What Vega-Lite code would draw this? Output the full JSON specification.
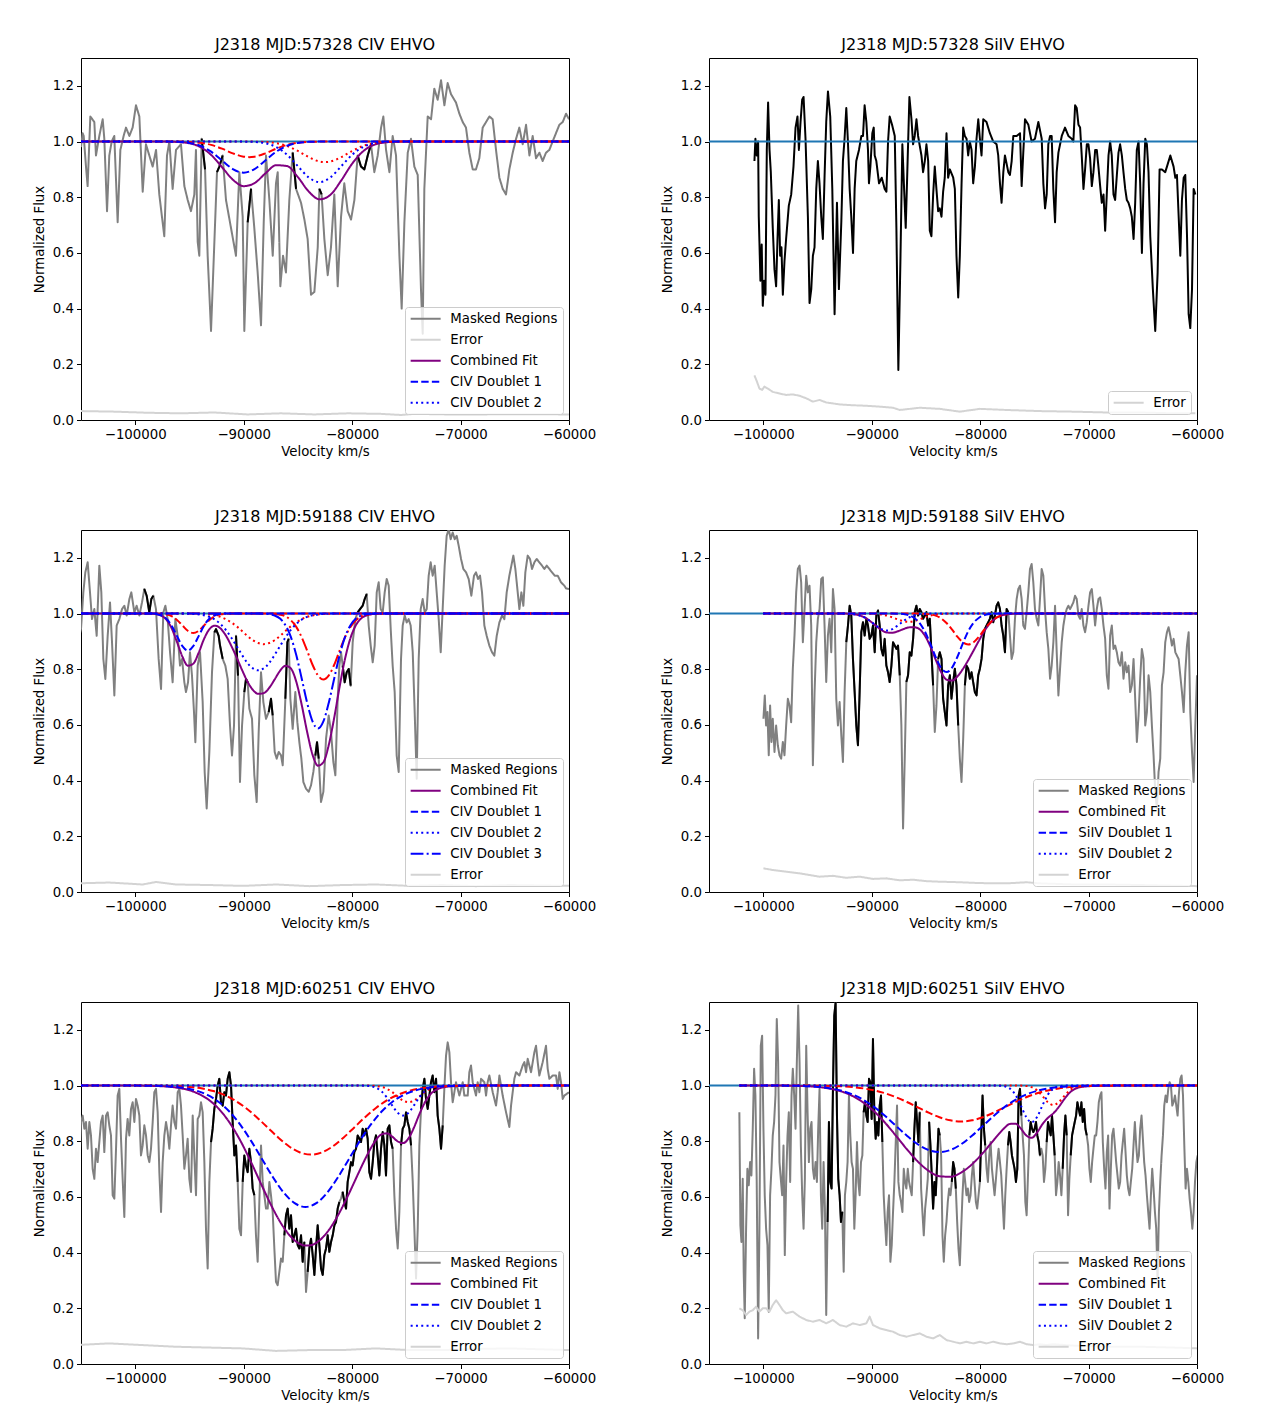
{
  "$schema": "https://vega.github.io/schema/vega-lite/v6.json",
  "background": "white",
  "padding": {"left": 31, "top": 36, "right": 10, "bottom": 10},
  "config": {
    "font": "DejaVu Sans",
    "view": {"stroke": "black", "strokeWidth": 1},
    "axis": {"domain": false, "grid": false, "tickColor": "black", "tickSize": 4.5, "tickWidth": 1, "labelFontSize": 13.3, "labelColor": "black", "titleFontSize": 13.3, "titleColor": "black", "titleFontWeight": "normal", "labelFont": "DejaVu Sans", "titleFont": "DejaVu Sans", "labelPadding": 3, "labelFlush": false, "labelOverlap": false},
    "axisX": {"titlePadding": 4},
    "axisY": {"titlePadding": 6},
    "title": {"fontSize": 16, "fontWeight": "normal", "font": "DejaVu Sans", "color": "black", "offset": 5, "baseline": "alphabetic"},
    "legend": {"orient": "bottom-right", "offset": 6, "labelFontSize": 13.3, "labelFont": "DejaVu Sans", "labelColor": "black", "symbolType": "M-3,0H3", "symbolSize": 100, "symbolStrokeWidth": 2, "labelOffset": 18, "symbolOffset": 9, "padding": 5, "rowPadding": 7, "fillColor": "rgba(255,255,255,0.8)", "strokeColor": "#cccccc", "cornerRadius": 3},
    "line": {"strokeWidth": 2, "strokeJoin": "round"}
  },
  "datasets": {
    "cont": [{"v": -105000, "f": 1}, {"v": -60000, "f": 1}],
    "spec1": [
      {"v":-105000,"f":0.98},{"v":-104850,"f":1.03},{"v":-104750,"f":1.02},{"v":-104540,"f":0.91},{"v":-104390,"f":0.84},{"v":-104140,"f":1.09},{"v":-103770,"f":1.07},{"v":-103620,"f":0.95},{"v":-103310,"f":1.02},{"v":-103000,"f":1.08},{"v":-102850,"f":1.01},{"v":-102600,"f":0.75},{"v":-102390,"f":0.95},{"v":-102170,"f":1.0},{"v":-101930,"f":1.02},{"v":-101620,"f":0.71},{"v":-101370,"f":0.97},{"v":-101070,"f":1.02},{"v":-100850,"f":1.05},{"v":-100540,"f":1.02},{"v":-100240,"f":1.05},{"v":-99930,"f":1.13},{"v":-99620,"f":1.09},{"v":-99310,"f":0.82},{"v":-99010,"f":0.99},{"v":-98700,"f":0.95},{"v":-98390,"f":0.91},{"v":-98080,"f":0.97},{"v":-97780,"f":0.81},{"v":-97320,"f":0.66},{"v":-97070,"f":0.95},{"v":-96850,"f":1.0},{"v":-96550,"f":0.83},{"v":-96240,"f":0.97},{"v":-95780,"f":0.99},{"v":-95470,"f":0.84},{"v":-95160,"f":0.79},{"v":-94860,"f":0.75},{"v":-94550,"f":0.81},{"v":-94400,"f":0.97},{"v":-94240,"f":0.64},{"v":-94090,"f":0.59},{"v":-93870,"f":1.01,"s":1},{"v":-93560,"f":0.9,"s":1},{"v":-93320,"f":0.59},{"v":-93010,"f":0.32},{"v":-92700,"f":0.64},{"v":-92460,"f":0.89,"s":2},{"v":-92240,"f":0.91,"s":2},{"v":-91940,"f":0.95,"s":2},{"v":-91630,"f":0.79},{"v":-91170,"f":0.69},{"v":-90710,"f":0.59},{"v":-90400,"f":0.89},{"v":-90090,"f":0.73},{"v":-89940,"f":0.32},{"v":-89630,"f":0.71,"s":3},{"v":-89320,"f":0.83,"s":3},{"v":-89020,"f":0.69},{"v":-88710,"f":0.53},{"v":-88400,"f":0.34},{"v":-88150,"f":0.71},{"v":-87940,"f":0.95},{"v":-87630,"f":0.79},{"v":-87320,"f":0.59},{"v":-87020,"f":0.85},{"v":-86860,"f":0.89},{"v":-86620,"f":0.48},{"v":-86370,"f":0.59},{"v":-86100,"f":0.53},{"v":-85790,"f":0.79},{"v":-85480,"f":0.96,"s":4},{"v":-85170,"f":0.83,"s":4},{"v":-84710,"f":0.78},{"v":-84400,"f":0.72},{"v":-84100,"f":0.65},{"v":-83790,"f":0.45},{"v":-83480,"f":0.46},{"v":-83170,"f":0.62},{"v":-83020,"f":0.83,"s":5},{"v":-82810,"f":0.81,"s":5},{"v":-82560,"f":0.65},{"v":-82250,"f":0.52},{"v":-81950,"f":0.62},{"v":-81640,"f":0.81},{"v":-81330,"f":0.48},{"v":-81020,"f":0.73},{"v":-80720,"f":0.85},{"v":-80410,"f":0.75},{"v":-80100,"f":0.72},{"v":-79790,"f":0.79},{"v":-79490,"f":0.95,"s":6},{"v":-79180,"f":0.91,"s":6},{"v":-78870,"f":0.9,"s":6},{"v":-78560,"f":0.95,"s":6},{"v":-78260,"f":0.99,"s":6},{"v":-77950,"f":0.89},{"v":-77640,"f":0.95},{"v":-77330,"f":1.05},{"v":-77120,"f":1.09},{"v":-76870,"f":0.97},{"v":-76560,"f":0.89},{"v":-76260,"f":1.02},{"v":-75950,"f":0.95},{"v":-75640,"f":0.59},{"v":-75430,"f":0.4},{"v":-75180,"f":0.71},{"v":-74870,"f":0.96},{"v":-74570,"f":1.01},{"v":-74260,"f":0.91},{"v":-73950,"f":0.88},{"v":-73650,"f":0.47},{"v":-73490,"f":0.31},{"v":-73340,"f":0.83},{"v":-73030,"f":1.09},{"v":-72720,"f":1.08},{"v":-72420,"f":1.19},{"v":-72110,"f":1.15},{"v":-71800,"f":1.22},{"v":-71490,"f":1.13},{"v":-71190,"f":1.21},{"v":-70880,"f":1.17},{"v":-70420,"f":1.14},{"v":-70110,"f":1.1},{"v":-69800,"f":1.07},{"v":-69500,"f":1.05},{"v":-69190,"f":0.96},{"v":-68880,"f":0.9},{"v":-68580,"f":0.9},{"v":-68270,"f":0.94},{"v":-67960,"f":1.05},{"v":-67650,"f":1.07},{"v":-67340,"f":1.09},{"v":-67040,"f":1.08},{"v":-66730,"f":0.97},{"v":-66420,"f":0.87},{"v":-66110,"f":0.83},{"v":-65810,"f":0.81},{"v":-65500,"f":0.9},{"v":-65190,"f":0.96},{"v":-64880,"f":1.01},{"v":-64580,"f":1.05},{"v":-64270,"f":0.99},{"v":-63960,"f":1.06},{"v":-63650,"f":0.95},{"v":-63350,"f":1.02},{"v":-63040,"f":0.94},{"v":-62730,"f":0.96},{"v":-62430,"f":0.93},{"v":-62120,"f":0.96},{"v":-61810,"f":0.97},{"v":-61510,"f":1.0},{"v":-61200,"f":1.03},{"v":-60890,"f":1.06},{"v":-60580,"f":1.07},{"v":-60270,"f":1.1},{"v":-60000,"f":1.08}
    ],
    "err1": [
      {"v":-105000,"f":0.032},{"v":-101930,"f":0.03},{"v":-98850,"f":0.026},{"v":-95780,"f":0.024},{"v":-92700,"f":0.027},{"v":-89630,"f":0.02},{"v":-86560,"f":0.024},{"v":-83480,"f":0.02},{"v":-80410,"f":0.024},{"v":-77330,"f":0.022},{"v":-75490,"f":0.018},{"v":-74260,"f":0.022},{"v":-71190,"f":0.02},{"v":-68110,"f":0.02},{"v":-65040,"f":0.021},{"v":-60000,"f":0.02}
    ],
    "fit1": [
      {"c":"comb","v":-105000,"f":1},{"c":"comb","v":-97000,"f":0.9997},{"c":"comb","v":-96000,"f":0.998},{"c":"comb","v":-95000,"f":0.9938},{"c":"comb","v":-94000,"f":0.9804},{"c":"comb","v":-93000,"f":0.952},{"c":"comb","v":-92000,"f":0.9082},{"c":"comb","v":-91000,"f":0.8631},{"c":"comb","v":-90000,"f":0.8398},{"c":"comb","v":-89000,"f":0.8506},{"c":"comb","v":-88000,"f":0.8855},{"c":"comb","v":-87000,"f":0.9149},{"c":"comb","v":-86000,"f":0.912},{"c":"comb","v":-85000,"f":0.8722},{"c":"comb","v":-84000,"f":0.8204},{"c":"comb","v":-83000,"f":0.7924},{"c":"comb","v":-82000,"f":0.8087},{"c":"comb","v":-81000,"f":0.8605},{"c":"comb","v":-80000,"f":0.9203},{"c":"comb","v":-79000,"f":0.9645},{"c":"comb","v":-78000,"f":0.9877},{"c":"comb","v":-77000,"f":0.9967},{"c":"comb","v":-76000,"f":0.9993},{"c":"comb","v":-75000,"f":1},{"c":"comb","v":-60000,"f":1},
      {"c":"b1","v":-105000,"f":1},{"c":"b1","v":-98000,"f":1},{"c":"b1","v":-97000,"f":0.9998},{"c":"b1","v":-96000,"f":0.9988},{"c":"b1","v":-95000,"f":0.9951},{"c":"b1","v":-94000,"f":0.9848},{"c":"b1","v":-93000,"f":0.9636},{"c":"b1","v":-92000,"f":0.9321},{"c":"b1","v":-91000,"f":0.9012},{"c":"b1","v":-90000,"f":0.888},{"c":"b1","v":-89000,"f":0.9012},{"c":"b1","v":-88000,"f":0.9321},{"c":"b1","v":-87000,"f":0.9636},{"c":"b1","v":-86000,"f":0.9848},{"c":"b1","v":-85000,"f":0.9951},{"c":"b1","v":-84000,"f":0.9988},{"c":"b1","v":-83000,"f":0.9998},{"c":"b1","v":-82000,"f":1},{"c":"b1","v":-60000,"f":1},
      {"c":"r1","v":-105000,"f":1},{"c":"r1","v":-97000,"f":0.9999},{"c":"r1","v":-96000,"f":0.9997},{"c":"r1","v":-95000,"f":0.9987},{"c":"r1","v":-94000,"f":0.9955},{"c":"r1","v":-93000,"f":0.9879},{"c":"r1","v":-92000,"f":0.9744},{"c":"r1","v":-91000,"f":0.9577},{"c":"r1","v":-90000,"f":0.9457},{"c":"r1","v":-89500,"f":0.944},{"c":"r1","v":-89000,"f":0.9457},{"c":"r1","v":-88000,"f":0.9577},{"c":"r1","v":-87000,"f":0.9744},{"c":"r1","v":-86000,"f":0.9879},{"c":"r1","v":-85000,"f":0.9955},{"c":"r1","v":-84000,"f":0.9987},{"c":"r1","v":-83000,"f":0.9997},{"c":"r1","v":-82000,"f":1},{"c":"r1","v":-60000,"f":1},
      {"c":"b2","v":-105000,"f":1},{"c":"b2","v":-91000,"f":1},{"c":"b2","v":-90000,"f":0.9997},{"c":"b2","v":-89000,"f":0.9984},{"c":"b2","v":-88000,"f":0.9936},{"c":"b2","v":-87000,"f":0.9802},{"c":"b2","v":-86000,"f":0.9526},{"c":"b2","v":-85000,"f":0.9114},{"c":"b2","v":-84000,"f":0.8712},{"c":"b2","v":-83000,"f":0.854},{"c":"b2","v":-82000,"f":0.8712},{"c":"b2","v":-81000,"f":0.9114},{"c":"b2","v":-80000,"f":0.9526},{"c":"b2","v":-79000,"f":0.9802},{"c":"b2","v":-78000,"f":0.9936},{"c":"b2","v":-77000,"f":0.9984},{"c":"b2","v":-76000,"f":0.9997},{"c":"b2","v":-75000,"f":1},{"c":"b2","v":-60000,"f":1},
      {"c":"r2","v":-105000,"f":1},{"c":"r2","v":-90000,"f":1},{"c":"r2","v":-89000,"f":0.9996},{"c":"r2","v":-88000,"f":0.9983},{"c":"r2","v":-87000,"f":0.9941},{"c":"r2","v":-86000,"f":0.984},{"c":"r2","v":-85000,"f":0.9661},{"c":"r2","v":-84000,"f":0.9441},{"c":"r2","v":-83000,"f":0.9283},{"c":"r2","v":-82500,"f":0.926},{"c":"r2","v":-82000,"f":0.9283},{"c":"r2","v":-81000,"f":0.9441},{"c":"r2","v":-80000,"f":0.9661},{"c":"r2","v":-79000,"f":0.984},{"c":"r2","v":-78000,"f":0.9941},{"c":"r2","v":-77000,"f":0.9983},{"c":"r2","v":-76000,"f":0.9996},{"c":"r2","v":-75000,"f":1},{"c":"r2","v":-60000,"f":1}
    ],
    "spec2": [
      {"v":-100810,"f":0.93},{"v":-100720,"f":1.01},{"v":-100600,"f":0.95},{"v":-100470,"f":1.0},{"v":-100410,"f":0.73},{"v":-100350,"f":0.64},{"v":-100260,"f":0.5},{"v":-100140,"f":0.63},{"v":-100040,"f":0.41},{"v":-99920,"f":0.5},{"v":-99790,"f":0.45},{"v":-99670,"f":0.97},{"v":-99550,"f":1.14},{"v":-99420,"f":0.97},{"v":-99300,"f":0.89},{"v":-99120,"f":0.69},{"v":-98960,"f":0.54},{"v":-98810,"f":0.48},{"v":-98690,"f":0.64},{"v":-98560,"f":0.79},{"v":-98440,"f":0.59},{"v":-98320,"f":0.62},{"v":-98190,"f":0.45},{"v":-98040,"f":0.57},{"v":-97890,"f":0.65},{"v":-97640,"f":0.77},{"v":-97420,"f":0.81},{"v":-97210,"f":0.91},{"v":-97020,"f":1.05},{"v":-96840,"f":1.09},{"v":-96710,"f":0.97},{"v":-96560,"f":1.07},{"v":-96410,"f":1.15},{"v":-96280,"f":1.16},{"v":-96100,"f":1.01},{"v":-95880,"f":0.73},{"v":-95730,"f":0.42},{"v":-95570,"f":0.47},{"v":-95420,"f":0.59},{"v":-95270,"f":0.62},{"v":-95110,"f":0.83},{"v":-94960,"f":0.93},{"v":-94810,"f":0.85},{"v":-94650,"f":0.73},{"v":-94500,"f":0.65},{"v":-94340,"f":0.88},{"v":-94190,"f":1.07},{"v":-94030,"f":1.18},{"v":-93820,"f":1.09},{"v":-93630,"f":0.83},{"v":-93420,"f":0.38},{"v":-93200,"f":0.78},{"v":-93020,"f":0.47},{"v":-92800,"f":0.71},{"v":-92650,"f":0.93},{"v":-92500,"f":1.01},{"v":-92340,"f":1.12},{"v":-92190,"f":1.0},{"v":-92030,"f":0.83},{"v":-91880,"f":0.73},{"v":-91720,"f":0.6},{"v":-91570,"f":0.83},{"v":-91420,"f":0.93},{"v":-91170,"f":0.97},{"v":-90950,"f":1.02},{"v":-90800,"f":1.02},{"v":-90650,"f":1.13},{"v":-90490,"f":1.07},{"v":-90340,"f":0.97},{"v":-90250,"f":0.85},{"v":-90120,"f":0.91},{"v":-89940,"f":1.03},{"v":-89810,"f":1.05},{"v":-89720,"f":0.95},{"v":-89570,"f":0.93},{"v":-89320,"f":0.85},{"v":-89070,"f":0.87},{"v":-88800,"f":0.83},{"v":-88640,"f":0.82},{"v":-88490,"f":1.0},{"v":-88340,"f":1.09},{"v":-88120,"f":1.06},{"v":-87870,"f":1.02},{"v":-87720,"f":0.69},{"v":-87540,"f":0.18},{"v":-87350,"f":0.57},{"v":-87170,"f":0.99},{"v":-87010,"f":0.83},{"v":-86860,"f":0.69},{"v":-86700,"f":0.91},{"v":-86520,"f":1.16},{"v":-86330,"f":1.08},{"v":-86180,"f":0.99},{"v":-86030,"f":1.02},{"v":-85870,"f":1.08},{"v":-85720,"f":1.02},{"v":-85410,"f":0.95},{"v":-85260,"f":0.89},{"v":-85100,"f":0.93},{"v":-84950,"f":0.99},{"v":-84790,"f":0.93},{"v":-84640,"f":0.68},{"v":-84490,"f":0.66},{"v":-84330,"f":0.81},{"v":-84180,"f":0.91},{"v":-84030,"f":0.83},{"v":-83870,"f":0.75},{"v":-83720,"f":0.76},{"v":-83560,"f":0.73},{"v":-83410,"f":0.82},{"v":-83260,"f":0.87},{"v":-83100,"f":1.03},{"v":-82950,"f":0.87},{"v":-82790,"f":0.9},{"v":-82480,"f":0.87},{"v":-82330,"f":0.83},{"v":-82180,"f":0.59},{"v":-82020,"f":0.44},{"v":-81870,"f":0.59},{"v":-81710,"f":0.85},{"v":-81560,"f":1.05},{"v":-81410,"f":1.02},{"v":-81250,"f":1.01},{"v":-81100,"f":0.95},{"v":-80950,"f":1.0},{"v":-80790,"f":0.97},{"v":-80640,"f":0.85},{"v":-80480,"f":0.91},{"v":-80330,"f":1.01},{"v":-80170,"f":1.08},{"v":-80020,"f":1.01},{"v":-79870,"f":0.95},{"v":-79710,"f":1.08},{"v":-79410,"f":1.07},{"v":-79100,"f":1.03},{"v":-78790,"f":1.0},{"v":-78480,"f":0.99},{"v":-78330,"f":0.95},{"v":-78170,"f":0.85},{"v":-78020,"f":0.78},{"v":-77860,"f":0.89},{"v":-77710,"f":0.95},{"v":-77400,"f":0.89},{"v":-77250,"f":0.88},{"v":-77090,"f":0.93},{"v":-76940,"f":1.02},{"v":-76630,"f":1.02},{"v":-76320,"f":1.03},{"v":-76170,"f":0.84},{"v":-76020,"f":0.96},{"v":-75860,"f":1.08},{"v":-75550,"f":1.06},{"v":-75250,"f":1.0},{"v":-74940,"f":1.01},{"v":-74630,"f":1.07},{"v":-74320,"f":1.01},{"v":-74170,"f":0.85},{"v":-74010,"f":0.76},{"v":-73860,"f":0.81},{"v":-73710,"f":0.99},{"v":-73550,"f":1.02},{"v":-73400,"f":1.02},{"v":-73250,"f":0.83},{"v":-73090,"f":0.71},{"v":-72940,"f":0.89},{"v":-72780,"f":0.96},{"v":-72470,"f":1.02},{"v":-72170,"f":1.05},{"v":-71860,"f":1.02},{"v":-71550,"f":1.01},{"v":-71400,"f":1.0},{"v":-71240,"f":1.13},{"v":-71090,"f":1.12},{"v":-70930,"f":1.06},{"v":-70780,"f":1.05},{"v":-70630,"f":0.95},{"v":-70470,"f":0.83},{"v":-70320,"f":0.9},{"v":-70160,"f":0.99},{"v":-70010,"f":0.99},{"v":-69860,"f":0.94},{"v":-69700,"f":0.84},{"v":-69550,"f":0.89},{"v":-69390,"f":0.97},{"v":-69240,"f":0.97},{"v":-69090,"f":0.91},{"v":-68930,"f":0.84},{"v":-68780,"f":0.78},{"v":-68620,"f":0.81},{"v":-68470,"f":0.68},{"v":-68320,"f":0.81},{"v":-68160,"f":0.95},{"v":-68010,"f":1.0},{"v":-67860,"f":0.95},{"v":-67700,"f":0.81},{"v":-67550,"f":0.79},{"v":-67390,"f":0.88},{"v":-67240,"f":0.96},{"v":-67090,"f":0.99},{"v":-66930,"f":0.95},{"v":-66780,"f":0.89},{"v":-66620,"f":0.83},{"v":-66470,"f":0.79},{"v":-66320,"f":0.78},{"v":-66160,"f":0.76},{"v":-66010,"f":0.73},{"v":-65850,"f":0.65},{"v":-65700,"f":0.78},{"v":-65550,"f":0.97},{"v":-65390,"f":1.0},{"v":-65240,"f":0.85},{"v":-65080,"f":0.6},{"v":-64930,"f":0.85},{"v":-64770,"f":1.01},{"v":-64620,"f":0.99},{"v":-64470,"f":0.89},{"v":-64310,"f":0.66},{"v":-64070,"f":0.47},{"v":-63850,"f":0.32},{"v":-63630,"f":0.53},{"v":-63450,"f":0.9},{"v":-63230,"f":0.9},{"v":-62930,"f":0.89},{"v":-62770,"f":0.91},{"v":-62460,"f":0.95},{"v":-62160,"f":0.91},{"v":-62000,"f":0.87},{"v":-61850,"f":0.88},{"v":-61690,"f":0.73},{"v":-61540,"f":0.59},{"v":-61390,"f":0.79},{"v":-61230,"f":0.87},{"v":-61080,"f":0.88},{"v":-60920,"f":0.66},{"v":-60770,"f":0.38},{"v":-60620,"f":0.33},{"v":-60460,"f":0.47},{"v":-60310,"f":0.83},{"v":-60150,"f":0.81}
    ],
    "err2": [
      {"v":-100810,"f":0.16},{"v":-100600,"f":0.14},{"v":-100350,"f":0.113},{"v":-100100,"f":0.108},{"v":-99890,"f":0.12},{"v":-99580,"f":0.113},{"v":-99120,"f":0.101},{"v":-98500,"f":0.095},{"v":-97890,"f":0.09},{"v":-97270,"f":0.092},{"v":-96650,"f":0.087},{"v":-96040,"f":0.078},{"v":-95420,"f":0.066},{"v":-94810,"f":0.072},{"v":-94190,"f":0.063},{"v":-92960,"f":0.056},{"v":-91720,"f":0.053},{"v":-90490,"f":0.051},{"v":-89260,"f":0.048},{"v":-88030,"f":0.044},{"v":-87410,"f":0.036},{"v":-85560,"f":0.044},{"v":-83720,"f":0.04},{"v":-81870,"f":0.03},{"v":-80020,"f":0.04},{"v":-77560,"f":0.036},{"v":-74480,"f":0.032},{"v":-71400,"f":0.03},{"v":-68320,"f":0.027},{"v":-65240,"f":0.027},{"v":-62160,"f":0.024},{"v":-60150,"f":0.024}
    ],
    "spec3": [
      {"v":-105460,"f":0.99},{"v":-105215,"f":0.91},{"v":-105000,"f":0.945},{"v":-104785,"f":1.076},{"v":-104600,"f":1.148},{"v":-104385,"f":1.184},{"v":-104170,"f":1.076},{"v":-103985,"f":0.98},{"v":-103770,"f":1.016},{"v":-103555,"f":0.92},{"v":-103310,"f":1.172},{"v":-103125,"f":1.076},{"v":-102940,"f":0.837},{"v":-102755,"f":0.765},{"v":-102540,"f":0.92},{"v":-102325,"f":1.04},{"v":-102140,"f":0.897},{"v":-101925,"f":0.706},{"v":-101710,"f":0.957},{"v":-101465,"f":0.98},{"v":-101220,"f":1.016},{"v":-101000,"f":1.028},{"v":-100790,"f":0.993},{"v":-100540,"f":1.052},{"v":-100360,"f":1.076},{"v":-100080,"f":1.004},{"v":-99870,"f":1.028},{"v":-99620,"f":0.993},{"v":-99375,"f":1.04},{"v":-99160,"f":1.088,"s":1},{"v":-98945,"f":1.064,"s":1},{"v":-98700,"f":1.004,"s":1},{"v":-98515,"f":1.052,"s":1},{"v":-98330,"f":1.064,"s":1},{"v":-98085,"f":1.016},{"v":-97840,"f":0.837},{"v":-97620,"f":0.729},{"v":-97410,"f":1.004},{"v":-97220,"f":1.028},{"v":-97010,"f":0.98},{"v":-96790,"f":0.861},{"v":-96550,"f":0.753},{"v":-96300,"f":0.98},{"v":-96085,"f":0.92},{"v":-95870,"f":0.813},{"v":-95685,"f":0.837},{"v":-95470,"f":0.753},{"v":-95320,"f":0.718},{"v":-95130,"f":0.753},{"v":-94950,"f":0.861},{"v":-94765,"f":0.777},{"v":-94580,"f":0.646},{"v":-94455,"f":0.538},{"v":-94240,"f":0.813},{"v":-94025,"f":0.861},{"v":-93780,"f":0.682},{"v":-93595,"f":0.431},{"v":-93410,"f":0.3},{"v":-93165,"f":0.503},{"v":-92920,"f":0.789},{"v":-92700,"f":0.932,"s":2},{"v":-92550,"f":0.944,"s":2},{"v":-92305,"f":0.92,"s":2},{"v":-92180,"f":0.885,"s":2},{"v":-91935,"f":0.837,"s":2},{"v":-91690,"f":0.813},{"v":-91475,"f":0.765},{"v":-91260,"f":0.598},{"v":-91075,"f":0.49},{"v":-90890,"f":0.598},{"v":-90705,"f":0.92,"s":3},{"v":-90520,"f":0.777,"s":3},{"v":-90340,"f":0.395},{"v":-90150,"f":0.598},{"v":-89940,"f":0.718,"s":4},{"v":-89785,"f":0.765,"s":4},{"v":-89630,"f":0.753,"s":4},{"v":-89475,"f":0.658},{"v":-89230,"f":0.622},{"v":-89015,"f":0.419},{"v":-88800,"f":0.323},{"v":-88615,"f":0.574},{"v":-88400,"f":0.789},{"v":-88185,"f":0.682},{"v":-87940,"f":0.622},{"v":-87690,"f":0.646,"s":5},{"v":-87480,"f":0.694,"s":5},{"v":-87325,"f":0.634,"s":5},{"v":-87140,"f":0.503},{"v":-86955,"f":0.479},{"v":-86770,"f":0.503},{"v":-86555,"f":0.491},{"v":-86400,"f":0.455},{"v":-86155,"f":0.694,"s":6},{"v":-85970,"f":0.897,"s":6},{"v":-85850,"f":0.909,"s":6},{"v":-85695,"f":0.694},{"v":-85480,"f":0.586},{"v":-85235,"f":0.718},{"v":-85050,"f":0.61},{"v":-84865,"f":0.538},{"v":-84680,"f":0.479},{"v":-84495,"f":0.395},{"v":-84250,"f":0.371},{"v":-84000,"f":0.36},{"v":-83790,"f":0.383},{"v":-83575,"f":0.431},{"v":-83390,"f":0.49,"s":7},{"v":-83235,"f":0.538,"s":7},{"v":-83080,"f":0.479,"s":7},{"v":-82870,"f":0.323},{"v":-82650,"f":0.36},{"v":-82405,"f":0.55},{"v":-82160,"f":0.634},{"v":-81945,"f":0.574},{"v":-81730,"f":0.467},{"v":-81545,"f":0.419},{"v":-81330,"f":0.694},{"v":-81175,"f":0.813},{"v":-81020,"f":0.861},{"v":-80870,"f":0.813,"s":8},{"v":-80685,"f":0.753,"s":8},{"v":-80500,"f":0.789,"s":8},{"v":-80315,"f":0.801,"s":8},{"v":-80130,"f":0.741,"s":8},{"v":-79945,"f":0.897},{"v":-79700,"f":0.98},{"v":-79485,"f":1.004,"s":9},{"v":-79270,"f":1.016,"s":9},{"v":-79025,"f":1.028,"s":9},{"v":-78840,"f":1.052,"s":9},{"v":-78655,"f":1.07,"s":9},{"v":-78470,"f":0.957},{"v":-78285,"f":0.885},{"v":-78100,"f":0.825},{"v":-77920,"f":0.885},{"v":-77730,"f":1.076},{"v":-77550,"f":1.112},{"v":-77365,"f":1.016},{"v":-77180,"f":1.004},{"v":-76995,"f":1.076},{"v":-76810,"f":1.124},{"v":-76625,"f":1.1},{"v":-76440,"f":0.944},{"v":-76260,"f":0.813},{"v":-76075,"f":0.718},{"v":-75890,"f":0.49},{"v":-75705,"f":0.431},{"v":-75490,"f":0.837},{"v":-75335,"f":0.957},{"v":-75150,"f":0.993},{"v":-74970,"f":0.968},{"v":-74785,"f":0.98},{"v":-74600,"f":0.957},{"v":-74410,"f":0.861},{"v":-74230,"f":0.646},{"v":-74045,"f":0.407},{"v":-73860,"f":0.837},{"v":-73675,"f":1.016},{"v":-73490,"f":1.052},{"v":-73305,"f":1.004},{"v":-73120,"f":1.016},{"v":-72940,"f":1.136},{"v":-72755,"f":1.184},{"v":-72570,"f":1.136},{"v":-72385,"f":1.172},{"v":-72200,"f":1.076},{"v":-72015,"f":0.98},{"v":-71830,"f":0.861},{"v":-71650,"f":1.016},{"v":-71465,"f":1.172},{"v":-71280,"f":1.279},{"v":-71095,"f":1.303},{"v":-70910,"f":1.267},{"v":-70725,"f":1.291},{"v":-70540,"f":1.267},{"v":-70355,"f":1.279},{"v":-70170,"f":1.243},{"v":-69955,"f":1.196},{"v":-69740,"f":1.16},{"v":-69495,"f":1.148},{"v":-69250,"f":1.124},{"v":-69005,"f":1.064},{"v":-68760,"f":1.136},{"v":-68575,"f":1.148},{"v":-68390,"f":1.124},{"v":-68205,"f":1.136},{"v":-68020,"f":1.076},{"v":-67805,"f":0.957},{"v":-67590,"f":0.92},{"v":-67345,"f":0.885},{"v":-67100,"f":0.861},{"v":-66885,"f":0.849},{"v":-66665,"f":0.92},{"v":-66420,"f":0.968},{"v":-66175,"f":0.993},{"v":-65960,"f":0.98},{"v":-65745,"f":1.076},{"v":-65500,"f":1.136},{"v":-65315,"f":1.172},{"v":-65130,"f":1.208},{"v":-64945,"f":1.16},{"v":-64730,"f":1.076},{"v":-64575,"f":1.016},{"v":-64390,"f":1.076},{"v":-64210,"f":1.028},{"v":-64025,"f":1.148},{"v":-63810,"f":1.208},{"v":-63595,"f":1.196},{"v":-63410,"f":1.16},{"v":-63190,"f":1.184},{"v":-62980,"f":1.196},{"v":-62735,"f":1.184},{"v":-62490,"f":1.172},{"v":-62270,"f":1.16},{"v":-62055,"f":1.172},{"v":-61810,"f":1.16},{"v":-61565,"f":1.148},{"v":-61320,"f":1.136},{"v":-61040,"f":1.136},{"v":-60735,"f":1.112},{"v":-60425,"f":1.1},{"v":-60270,"f":1.09},{"v":-60000,"f":1.088}
    ],
    "err3": [
      {"v":-105460,"f":0.031},{"v":-102390,"f":0.034},{"v":-99310,"f":0.027},{"v":-98080,"f":0.036},{"v":-96240,"f":0.027},{"v":-93165,"f":0.025},{"v":-90090,"f":0.022},{"v":-87020,"f":0.027},{"v":-83940,"f":0.021},{"v":-80870,"f":0.025},{"v":-77795,"f":0.027},{"v":-74720,"f":0.022},{"v":-71650,"f":0.025},{"v":-68575,"f":0.021},{"v":-65500,"f":0.025},{"v":-60000,"f":0.022}
    ],
    "fit3": [
      {"c":"comb","v":-105000,"f":1},{"c":"comb","v":-98650,"f":1},{"c":"comb","v":-98150,"f":0.9985},{"c":"comb","v":-97650,"f":0.9932},{"c":"comb","v":-97150,"f":0.979},{"c":"comb","v":-96650,"f":0.948},{"c":"comb","v":-96150,"f":0.898},{"c":"comb","v":-95650,"f":0.8455},{"c":"comb","v":-95150,"f":0.8128},{"c":"comb","v":-94650,"f":0.8198},{"c":"comb","v":-94150,"f":0.8589},{"c":"comb","v":-93650,"f":0.9091},{"c":"comb","v":-93150,"f":0.9444},{"c":"comb","v":-92650,"f":0.9565},{"c":"comb","v":-92150,"f":0.9468},{"c":"comb","v":-91650,"f":0.9215},{"c":"comb","v":-91150,"f":0.8848},{"c":"comb","v":-90650,"f":0.8424},{"c":"comb","v":-90150,"f":0.7974},{"c":"comb","v":-89650,"f":0.7558},{"c":"comb","v":-89150,"f":0.7259},{"c":"comb","v":-88650,"f":0.7116},{"c":"comb","v":-88150,"f":0.7142},{"c":"comb","v":-87650,"f":0.7328},{"c":"comb","v":-87150,"f":0.7628},{"c":"comb","v":-86650,"f":0.7941},{"c":"comb","v":-86150,"f":0.8122},{"c":"comb","v":-85650,"f":0.8026},{"c":"comb","v":-85150,"f":0.7553},{"c":"comb","v":-84650,"f":0.6726},{"c":"comb","v":-84150,"f":0.5755},{"c":"comb","v":-83650,"f":0.4933},{"c":"comb","v":-83150,"f":0.4538},{"c":"comb","v":-82650,"f":0.466},{"c":"comb","v":-82150,"f":0.5284},{"c":"comb","v":-81650,"f":0.6259},{"c":"comb","v":-81150,"f":0.7378},{"c":"comb","v":-80650,"f":0.8381},{"c":"comb","v":-80150,"f":0.912},{"c":"comb","v":-79650,"f":0.9584},{"c":"comb","v":-79150,"f":0.983},{"c":"comb","v":-78650,"f":0.9936},{"c":"comb","v":-78150,"f":0.9979},{"c":"comb","v":-77650,"f":0.9996},{"c":"comb","v":-77150,"f":1},{"c":"comb","v":-60000,"f":1},
      {"c":"b1","v":-105000,"f":1},{"c":"b1","v":-98650,"f":1},{"c":"b1","v":-98150,"f":0.9985},{"c":"b1","v":-97650,"f":0.994},{"c":"b1","v":-97150,"f":0.982},{"c":"b1","v":-96650,"f":0.957},{"c":"b1","v":-96150,"f":0.919},{"c":"b1","v":-95650,"f":0.883},{"c":"b1","v":-95150,"f":0.867},{"c":"b1","v":-94650,"f":0.883},{"c":"b1","v":-94150,"f":0.919},{"c":"b1","v":-93650,"f":0.957},{"c":"b1","v":-93150,"f":0.982},{"c":"b1","v":-92650,"f":0.994},{"c":"b1","v":-92150,"f":0.9985},{"c":"b1","v":-91650,"f":1},{"c":"b1","v":-60000,"f":1},
      {"c":"r1","v":-105000,"f":1},{"c":"r1","v":-98150,"f":1},{"c":"r1","v":-97650,"f":0.9992},{"c":"r1","v":-97150,"f":0.997},{"c":"r1","v":-96650,"f":0.9905},{"c":"r1","v":-96150,"f":0.977},{"c":"r1","v":-95650,"f":0.9575},{"c":"r1","v":-95150,"f":0.938},{"c":"r1","v":-94650,"f":0.93},{"c":"r1","v":-94150,"f":0.938},{"c":"r1","v":-93650,"f":0.9575},{"c":"r1","v":-93150,"f":0.977},{"c":"r1","v":-92650,"f":0.9905},{"c":"r1","v":-92150,"f":0.997},{"c":"r1","v":-91650,"f":0.9992},{"c":"r1","v":-91150,"f":1},{"c":"r1","v":-60000,"f":1},
      {"c":"b2","v":-105000,"f":1},{"c":"b2","v":-95650,"f":1},{"c":"b2","v":-94650,"f":0.9986},{"c":"b2","v":-93650,"f":0.9936},{"c":"b2","v":-93150,"f":0.9877},{"c":"b2","v":-92650,"f":0.978},{"c":"b2","v":-92150,"f":0.9626},{"c":"b2","v":-91650,"f":0.941},{"c":"b2","v":-91150,"f":0.914},{"c":"b2","v":-90650,"f":0.883},{"c":"b2","v":-90150,"f":0.851},{"c":"b2","v":-89650,"f":0.822},{"c":"b2","v":-89150,"f":0.803},{"c":"b2","v":-88650,"f":0.796},{"c":"b2","v":-88150,"f":0.803},{"c":"b2","v":-87650,"f":0.822},{"c":"b2","v":-87150,"f":0.851},{"c":"b2","v":-86650,"f":0.883},{"c":"b2","v":-86150,"f":0.914},{"c":"b2","v":-85650,"f":0.941},{"c":"b2","v":-85150,"f":0.963},{"c":"b2","v":-84650,"f":0.978},{"c":"b2","v":-84150,"f":0.988},{"c":"b2","v":-83650,"f":0.9936},{"c":"b2","v":-82650,"f":0.9986},{"c":"b2","v":-81650,"f":1},{"c":"b2","v":-60000,"f":1},
      {"c":"r2","v":-105000,"f":1},{"c":"r2","v":-95150,"f":1},{"c":"r2","v":-94150,"f":0.9993},{"c":"r2","v":-93150,"f":0.9966},{"c":"r2","v":-92650,"f":0.9933},{"c":"r2","v":-92150,"f":0.988},{"c":"r2","v":-91650,"f":0.98},{"c":"r2","v":-91150,"f":0.968},{"c":"r2","v":-90650,"f":0.954},{"c":"r2","v":-90150,"f":0.937},{"c":"r2","v":-89650,"f":0.9195},{"c":"r2","v":-89150,"f":0.904},{"c":"r2","v":-88650,"f":0.894},{"c":"r2","v":-88150,"f":0.89},{"c":"r2","v":-87650,"f":0.894},{"c":"r2","v":-87150,"f":0.904},{"c":"r2","v":-86650,"f":0.9195},{"c":"r2","v":-86150,"f":0.937},{"c":"r2","v":-85650,"f":0.954},{"c":"r2","v":-85150,"f":0.968},{"c":"r2","v":-84650,"f":0.98},{"c":"r2","v":-84150,"f":0.988},{"c":"r2","v":-83650,"f":0.9933},{"c":"r2","v":-83150,"f":0.9966},{"c":"r2","v":-82150,"f":0.9993},{"c":"r2","v":-81150,"f":1},{"c":"r2","v":-60000,"f":1},
      {"c":"b3","v":-105000,"f":1},{"c":"b3","v":-88650,"f":1},{"c":"b3","v":-88150,"f":0.9993},{"c":"b3","v":-87650,"f":0.9976},{"c":"b3","v":-87150,"f":0.993},{"c":"b3","v":-86650,"f":0.982},{"c":"b3","v":-86150,"f":0.958},{"c":"b3","v":-85650,"f":0.916},{"c":"b3","v":-85150,"f":0.851},{"c":"b3","v":-84650,"f":0.767},{"c":"b3","v":-84150,"f":0.68},{"c":"b3","v":-83650,"f":0.6125},{"c":"b3","v":-83150,"f":0.587},{"c":"b3","v":-82650,"f":0.6125},{"c":"b3","v":-82150,"f":0.68},{"c":"b3","v":-81650,"f":0.767},{"c":"b3","v":-81150,"f":0.851},{"c":"b3","v":-80650,"f":0.916},{"c":"b3","v":-80150,"f":0.958},{"c":"b3","v":-79650,"f":0.982},{"c":"b3","v":-79150,"f":0.993},{"c":"b3","v":-78650,"f":0.9976},{"c":"b3","v":-78150,"f":0.9993},{"c":"b3","v":-77650,"f":1},{"c":"b3","v":-60000,"f":1},
      {"c":"r3","v":-105000,"f":1},{"c":"r3","v":-88150,"f":1},{"c":"r3","v":-87650,"f":0.9996},{"c":"r3","v":-87150,"f":0.9986},{"c":"r3","v":-86650,"f":0.996},{"c":"r3","v":-86150,"f":0.99},{"c":"r3","v":-85650,"f":0.976},{"c":"r3","v":-85150,"f":0.952},{"c":"r3","v":-84650,"f":0.915},{"c":"r3","v":-84150,"f":0.867},{"c":"r3","v":-83650,"f":0.816},{"c":"r3","v":-83150,"f":0.778},{"c":"r3","v":-82650,"f":0.763},{"c":"r3","v":-82150,"f":0.778},{"c":"r3","v":-81650,"f":0.816},{"c":"r3","v":-81150,"f":0.867},{"c":"r3","v":-80650,"f":0.915},{"c":"r3","v":-80150,"f":0.952},{"c":"r3","v":-79650,"f":0.976},{"c":"r3","v":-79150,"f":0.99},{"c":"r3","v":-78650,"f":0.996},{"c":"r3","v":-78150,"f":0.9986},{"c":"r3","v":-77650,"f":0.9996},{"c":"r3","v":-77150,"f":1},{"c":"r3","v":-60000,"f":1}
    ],
    "spec4": [
      {"v":-99980,"f":0.622},{"v":-99855,"f":0.706},{"v":-99735,"f":0.598},{"v":-99610,"f":0.646},{"v":-99490,"f":0.491},{"v":-99365,"f":0.67},{"v":-99240,"f":0.539},{"v":-99120,"f":0.622},{"v":-98960,"f":0.503},{"v":-98810,"f":0.598},{"v":-98655,"f":0.527},{"v":-98500,"f":0.491},{"v":-98345,"f":0.479},{"v":-98190,"f":0.539},{"v":-98040,"f":0.491},{"v":-97885,"f":0.598},{"v":-97730,"f":0.694},{"v":-97577,"f":0.67},{"v":-97425,"f":0.61},{"v":-97270,"f":0.802},{"v":-97115,"f":0.921},{"v":-96960,"f":1.076},{"v":-96810,"f":1.16},{"v":-96650,"f":1.172},{"v":-96500,"f":1.112},{"v":-96345,"f":0.897},{"v":-96190,"f":1.016},{"v":-96035,"f":1.136},{"v":-95880,"f":1.076},{"v":-95730,"f":1.1},{"v":-95575,"f":0.957},{"v":-95420,"f":0.455},{"v":-95265,"f":0.718},{"v":-95110,"f":0.897},{"v":-94960,"f":0.981},{"v":-94805,"f":1.016},{"v":-94650,"f":1.124},{"v":-94500,"f":1.13},{"v":-94345,"f":0.957},{"v":-94190,"f":0.754},{"v":-94035,"f":0.921},{"v":-93880,"f":0.981},{"v":-93727,"f":0.861},{"v":-93570,"f":1.088},{"v":-93420,"f":1.016},{"v":-93265,"f":0.694},{"v":-93110,"f":0.598},{"v":-92955,"f":0.682},{"v":-92800,"f":0.563},{"v":-92650,"f":0.467},{"v":-92495,"f":0.718},{"v":-92340,"f":0.897,"s":1},{"v":-92185,"f":0.957,"s":1},{"v":-92030,"f":1.028,"s":1},{"v":-91880,"f":0.993,"s":1},{"v":-91725,"f":0.837,"s":1},{"v":-91570,"f":0.718,"s":1},{"v":-91417,"f":0.598,"s":1},{"v":-91265,"f":0.527,"s":1},{"v":-91110,"f":0.718,"s":1},{"v":-90955,"f":0.933,"s":1},{"v":-90800,"f":0.969,"s":1},{"v":-90647,"f":0.921,"s":1},{"v":-90490,"f":0.981,"s":1},{"v":-90340,"f":0.957,"s":1},{"v":-90185,"f":0.909,"s":1},{"v":-90030,"f":0.921,"s":1},{"v":-89877,"f":0.957,"s":1},{"v":-89720,"f":0.861,"s":1},{"v":-89570,"f":0.993,"s":1},{"v":-89415,"f":1.011,"s":1},{"v":-89260,"f":0.957,"s":1},{"v":-89110,"f":0.873,"s":1},{"v":-88953,"f":0.849,"s":1},{"v":-88800,"f":0.909,"s":1},{"v":-88645,"f":0.813,"s":1},{"v":-88490,"f":0.789,"s":1},{"v":-88340,"f":0.754,"s":1},{"v":-88180,"f":0.813,"s":1},{"v":-88030,"f":0.897,"s":1},{"v":-87875,"f":0.885,"s":1},{"v":-87720,"f":0.873,"s":1},{"v":-87570,"f":0.885,"s":1},{"v":-87410,"f":0.778,"s":1},{"v":-87260,"f":0.598},{"v":-87105,"f":0.228},{"v":-86950,"f":0.479},{"v":-86800,"f":0.754,"s":2},{"v":-86645,"f":0.778,"s":2},{"v":-86490,"f":0.861,"s":2},{"v":-86335,"f":0.849,"s":2},{"v":-86180,"f":0.909,"s":2},{"v":-86030,"f":1.005,"s":2},{"v":-85875,"f":1.028,"s":2},{"v":-85720,"f":0.993,"s":2},{"v":-85565,"f":1.016,"s":2},{"v":-85410,"f":1.005,"s":2},{"v":-85260,"f":0.981,"s":2},{"v":-85105,"f":0.993,"s":2},{"v":-84950,"f":1.005,"s":2},{"v":-84795,"f":0.957,"s":2},{"v":-84640,"f":0.981,"s":2},{"v":-84487,"f":0.861,"s":2},{"v":-84335,"f":0.742,"s":2},{"v":-84180,"f":0.575},{"v":-84025,"f":0.67},{"v":-83870,"f":0.837,"s":3},{"v":-83720,"f":0.861,"s":3},{"v":-83560,"f":0.837,"s":3},{"v":-83410,"f":0.694,"s":3},{"v":-83255,"f":0.646,"s":3},{"v":-83100,"f":0.598,"s":3},{"v":-82950,"f":0.742,"s":3},{"v":-82790,"f":0.778,"s":3},{"v":-82640,"f":0.694,"s":3},{"v":-82485,"f":0.754,"s":3},{"v":-82330,"f":0.802,"s":3},{"v":-82177,"f":0.742,"s":3},{"v":-82020,"f":0.598,"s":3},{"v":-81870,"f":0.479},{"v":-81715,"f":0.395},{"v":-81560,"f":0.551},{"v":-81405,"f":0.742,"s":4},{"v":-81250,"f":0.813,"s":4},{"v":-81100,"f":0.802,"s":4},{"v":-80945,"f":0.766,"s":4},{"v":-80790,"f":0.789,"s":4},{"v":-80640,"f":0.754,"s":4},{"v":-80485,"f":0.718,"s":4},{"v":-80330,"f":0.706,"s":4},{"v":-80175,"f":0.778,"s":4},{"v":-80020,"f":0.802,"s":4},{"v":-79867,"f":0.837,"s":4},{"v":-79710,"f":0.909,"s":4},{"v":-79560,"f":0.945,"s":4},{"v":-79405,"f":0.957,"s":4},{"v":-79250,"f":0.969,"s":4},{"v":-79100,"f":0.981,"s":4},{"v":-78945,"f":1.005,"s":4},{"v":-78790,"f":0.969,"s":4},{"v":-78635,"f":0.993,"s":4},{"v":-78480,"f":1.028,"s":4},{"v":-78330,"f":1.04,"s":4},{"v":-78170,"f":1.016,"s":4},{"v":-78020,"f":0.957,"s":4},{"v":-77865,"f":0.921,"s":4},{"v":-77710,"f":0.861,"s":4},{"v":-77555,"f":1.016,"s":4},{"v":-77400,"f":1.005,"s":4},{"v":-77250,"f":0.921},{"v":-77095,"f":0.837},{"v":-76940,"f":0.861},{"v":-76787,"f":0.981},{"v":-76630,"f":1.052},{"v":-76480,"f":1.088},{"v":-76325,"f":1.1},{"v":-76170,"f":1.052},{"v":-76020,"f":0.957},{"v":-75865,"f":0.945},{"v":-75710,"f":1.005},{"v":-75555,"f":1.076},{"v":-75400,"f":1.16},{"v":-75247,"f":1.178},{"v":-75095,"f":1.112},{"v":-74940,"f":1.016},{"v":-74785,"f":0.981},{"v":-74630,"f":0.957},{"v":-74480,"f":1.052},{"v":-74325,"f":1.16},{"v":-74170,"f":1.136},{"v":-74015,"f":1.016},{"v":-73860,"f":0.933},{"v":-73707,"f":0.873},{"v":-73550,"f":0.766},{"v":-73400,"f":0.813},{"v":-73245,"f":0.897},{"v":-73090,"f":1.028},{"v":-72937,"f":0.861},{"v":-72780,"f":0.706},{"v":-72630,"f":0.802},{"v":-72475,"f":0.897},{"v":-72320,"f":0.957},{"v":-72170,"f":0.993},{"v":-72015,"f":1.016},{"v":-71860,"f":1.028},{"v":-71705,"f":1.016},{"v":-71550,"f":1.028},{"v":-71400,"f":1.04},{"v":-71245,"f":1.064},{"v":-71090,"f":1.052},{"v":-70935,"f":0.993},{"v":-70780,"f":0.981},{"v":-70630,"f":1.016},{"v":-70475,"f":0.957},{"v":-70320,"f":0.933},{"v":-70165,"f":0.969},{"v":-70010,"f":1.028},{"v":-69857,"f":1.076},{"v":-69700,"f":1.088},{"v":-69550,"f":1.028},{"v":-69395,"f":0.957},{"v":-69240,"f":1.016},{"v":-69087,"f":1.052},{"v":-68935,"f":1.058},{"v":-68780,"f":1.016},{"v":-68625,"f":0.957},{"v":-68470,"f":0.909},{"v":-68317,"f":0.778},{"v":-68165,"f":0.73},{"v":-68010,"f":0.921},{"v":-67855,"f":0.957},{"v":-67700,"f":0.873},{"v":-67547,"f":0.885},{"v":-67393,"f":0.861},{"v":-67240,"f":0.825},{"v":-67085,"f":0.813},{"v":-66930,"f":0.861},{"v":-66777,"f":0.766},{"v":-66620,"f":0.825},{"v":-66470,"f":0.789},{"v":-66315,"f":0.813},{"v":-66160,"f":0.718},{"v":-66007,"f":0.742},{"v":-65850,"f":0.837},{"v":-65700,"f":0.694},{"v":-65545,"f":0.539},{"v":-65390,"f":0.634},{"v":-65240,"f":0.766},{"v":-65085,"f":0.873},{"v":-64930,"f":0.837},{"v":-64775,"f":0.598},{"v":-64620,"f":0.646},{"v":-64467,"f":0.778},{"v":-64310,"f":0.718},{"v":-64160,"f":0.598},{"v":-64005,"f":0.491},{"v":-63850,"f":0.36},{"v":-63697,"f":0.3},{"v":-63545,"f":0.431},{"v":-63390,"f":0.479},{"v":-63235,"f":0.742},{"v":-63080,"f":0.789},{"v":-62927,"f":0.897},{"v":-62770,"f":0.933},{"v":-62620,"f":0.951},{"v":-62465,"f":0.921},{"v":-62310,"f":0.885},{"v":-62157,"f":0.909},{"v":-62000,"f":0.861},{"v":-61850,"f":0.849},{"v":-61695,"f":0.837},{"v":-61540,"f":0.778},{"v":-61387,"f":0.718},{"v":-61230,"f":0.646},{"v":-61080,"f":0.789},{"v":-60925,"f":0.885},{"v":-60770,"f":0.933},{"v":-60617,"f":0.646},{"v":-60460,"f":0.503},{"v":-60310,"f":0.395},{"v":-60155,"f":0.598},{"v":-60000,"f":0.778}
    ],
    "err4": [
      {"v":-99980,"f":0.085},{"v":-99120,"f":0.079},{"v":-97885,"f":0.073},{"v":-96650,"f":0.067},{"v":-96035,"f":0.063},{"v":-94805,"f":0.055},{"v":-93570,"f":0.058},{"v":-92340,"f":0.051},{"v":-91110,"f":0.055},{"v":-89877,"f":0.047},{"v":-88645,"f":0.049},{"v":-87410,"f":0.042},{"v":-86180,"f":0.044},{"v":-84950,"f":0.039},{"v":-83720,"f":0.037},{"v":-81870,"f":0.035},{"v":-80020,"f":0.032},{"v":-77555,"f":0.031},{"v":-75710,"f":0.035},{"v":-74480,"f":0.031},{"v":-71400,"f":0.027},{"v":-68317,"f":0.027},{"v":-65240,"f":0.025},{"v":-60000,"f":0.021}
    ],
    "fit4": [
      {"c":"comb","v":-100000,"f":1},{"c":"comb","v":-92600,"f":1},{"c":"comb","v":-92100,"f":0.9991},{"c":"comb","v":-91600,"f":0.9973},{"c":"comb","v":-91100,"f":0.993},{"c":"comb","v":-90600,"f":0.985},{"c":"comb","v":-90100,"f":0.9716},{"c":"comb","v":-89600,"f":0.9558},{"c":"comb","v":-89100,"f":0.9408},{"c":"comb","v":-88600,"f":0.932},{"c":"comb","v":-88100,"f":0.9311},{"c":"comb","v":-87600,"f":0.9362},{"c":"comb","v":-87100,"f":0.9436},{"c":"comb","v":-86600,"f":0.9501},{"c":"comb","v":-86100,"f":0.9512},{"c":"comb","v":-85600,"f":0.944},{"c":"comb","v":-85100,"f":0.9214},{"c":"comb","v":-84600,"f":0.8827},{"c":"comb","v":-84100,"f":0.8347},{"c":"comb","v":-83600,"f":0.79},{"c":"comb","v":-83100,"f":0.7628},{"c":"comb","v":-82600,"f":0.7591},{"c":"comb","v":-82100,"f":0.774},{"c":"comb","v":-81600,"f":0.8001},{"c":"comb","v":-81100,"f":0.8321},{"c":"comb","v":-80600,"f":0.8674},{"c":"comb","v":-80100,"f":0.9032},{"c":"comb","v":-79600,"f":0.9377},{"c":"comb","v":-79100,"f":0.9643},{"c":"comb","v":-78600,"f":0.9821},{"c":"comb","v":-78100,"f":0.9923},{"c":"comb","v":-77600,"f":0.997},{"c":"comb","v":-77100,"f":0.999},{"c":"comb","v":-76600,"f":1},{"c":"comb","v":-60000,"f":1},
      {"c":"b1","v":-100000,"f":1},{"c":"b1","v":-88100,"f":1},{"c":"b1","v":-87600,"f":0.9995},{"c":"b1","v":-87100,"f":0.9982},{"c":"b1","v":-86600,"f":0.9944},{"c":"b1","v":-86100,"f":0.985},{"c":"b1","v":-85600,"f":0.967},{"c":"b1","v":-85100,"f":0.936},{"c":"b1","v":-84600,"f":0.892},{"c":"b1","v":-84100,"f":0.844},{"c":"b1","v":-83600,"f":0.805},{"c":"b1","v":-83100,"f":0.79},{"c":"b1","v":-82600,"f":0.805},{"c":"b1","v":-82100,"f":0.844},{"c":"b1","v":-81600,"f":0.892},{"c":"b1","v":-81100,"f":0.936},{"c":"b1","v":-80600,"f":0.967},{"c":"b1","v":-80100,"f":0.985},{"c":"b1","v":-79600,"f":0.9944},{"c":"b1","v":-79100,"f":0.9982},{"c":"b1","v":-78600,"f":0.9995},{"c":"b1","v":-78100,"f":1},{"c":"b1","v":-60000,"f":1},
      {"c":"r1","v":-100000,"f":1},{"c":"r1","v":-85600,"f":1},{"c":"r1","v":-85100,"f":0.999},{"c":"r1","v":-84600,"f":0.997},{"c":"r1","v":-84100,"f":0.9923},{"c":"r1","v":-83600,"f":0.9826},{"c":"r1","v":-83100,"f":0.966},{"c":"r1","v":-82600,"f":0.943},{"c":"r1","v":-82100,"f":0.917},{"c":"r1","v":-81600,"f":0.897},{"c":"r1","v":-81100,"f":0.889},{"c":"r1","v":-80600,"f":0.897},{"c":"r1","v":-80100,"f":0.917},{"c":"r1","v":-79600,"f":0.943},{"c":"r1","v":-79100,"f":0.966},{"c":"r1","v":-78600,"f":0.9826},{"c":"r1","v":-78100,"f":0.9923},{"c":"r1","v":-77600,"f":0.997},{"c":"r1","v":-77100,"f":0.999},{"c":"r1","v":-76600,"f":1},{"c":"r1","v":-60000,"f":1},
      {"c":"b2","v":-100000,"f":1},{"c":"b2","v":-92600,"f":1},{"c":"b2","v":-92100,"f":0.9991},{"c":"b2","v":-91600,"f":0.9973},{"c":"b2","v":-91100,"f":0.993},{"c":"b2","v":-90600,"f":0.985},{"c":"b2","v":-90100,"f":0.972},{"c":"b2","v":-89600,"f":0.957},{"c":"b2","v":-89100,"f":0.944},{"c":"b2","v":-88600,"f":0.939},{"c":"b2","v":-88100,"f":0.944},{"c":"b2","v":-87600,"f":0.957},{"c":"b2","v":-87100,"f":0.972},{"c":"b2","v":-86600,"f":0.985},{"c":"b2","v":-86100,"f":0.993},{"c":"b2","v":-85600,"f":0.9973},{"c":"b2","v":-85100,"f":0.9991},{"c":"b2","v":-84600,"f":1},{"c":"b2","v":-60000,"f":1},
      {"c":"r2","v":-100000,"f":1},{"c":"r2","v":-90600,"f":1},{"c":"r2","v":-90100,"f":0.9996},{"c":"r2","v":-89600,"f":0.9987},{"c":"r2","v":-89100,"f":0.9966},{"c":"r2","v":-88600,"f":0.9925},{"c":"r2","v":-88100,"f":0.9863},{"c":"r2","v":-87600,"f":0.9788},{"c":"r2","v":-87100,"f":0.9725},{"c":"r2","v":-86600,"f":0.97},{"c":"r2","v":-86100,"f":0.9725},{"c":"r2","v":-85600,"f":0.9788},{"c":"r2","v":-85100,"f":0.9863},{"c":"r2","v":-84600,"f":0.9925},{"c":"r2","v":-84100,"f":0.9966},{"c":"r2","v":-83600,"f":0.9987},{"c":"r2","v":-83100,"f":0.9996},{"c":"r2","v":-82600,"f":1},{"c":"r2","v":-60000,"f":1}
    ],
    "spec5": [
      {"v":-105460,"f":0.785},{"v":-105310,"f":0.546},{"v":-105155,"f":0.701},{"v":-105000,"f":0.869},{"v":-104845,"f":0.892},{"v":-104690,"f":0.845},{"v":-104540,"f":0.869},{"v":-104385,"f":0.773},{"v":-104230,"f":0.869},{"v":-104080,"f":0.821},{"v":-103925,"f":0.701},{"v":-103770,"f":0.665},{"v":-103620,"f":0.773},{"v":-103465,"f":0.725},{"v":-103310,"f":0.797},{"v":-103155,"f":0.869},{"v":-103000,"f":0.892},{"v":-102850,"f":0.761},{"v":-102695,"f":0.892},{"v":-102540,"f":0.904},{"v":-102390,"f":0.857},{"v":-102235,"f":0.821},{"v":-102080,"f":0.606},{"v":-101925,"f":0.594},{"v":-101770,"f":0.773},{"v":-101620,"f":0.964},{"v":-101465,"f":0.988},{"v":-101310,"f":0.809},{"v":-101160,"f":0.665},{"v":-101005,"f":0.528},{"v":-100850,"f":0.809},{"v":-100700,"f":0.88},{"v":-100545,"f":0.821},{"v":-100390,"f":0.916},{"v":-100235,"f":0.94},{"v":-100080,"f":0.869},{"v":-99930,"f":0.952},{"v":-99775,"f":0.928},{"v":-99620,"f":0.892},{"v":-99470,"f":0.749},{"v":-99315,"f":0.785},{"v":-99160,"f":0.857},{"v":-99005,"f":0.821},{"v":-98850,"f":0.749},{"v":-98700,"f":0.725},{"v":-98545,"f":0.773},{"v":-98390,"f":0.869},{"v":-98240,"f":0.976},{"v":-98085,"f":0.988},{"v":-97930,"f":0.904},{"v":-97775,"f":0.689},{"v":-97620,"f":0.546},{"v":-97470,"f":0.725},{"v":-97315,"f":0.821},{"v":-97160,"f":0.869},{"v":-97010,"f":0.833},{"v":-96855,"f":0.773},{"v":-96700,"f":0.857},{"v":-96550,"f":0.928},{"v":-96395,"f":0.869},{"v":-96240,"f":0.845},{"v":-96085,"f":0.976},{"v":-95930,"f":0.988},{"v":-95780,"f":0.928},{"v":-95625,"f":0.821},{"v":-95470,"f":0.701},{"v":-95320,"f":0.749},{"v":-95165,"f":0.809},{"v":-95010,"f":0.665},{"v":-94855,"f":0.618},{"v":-94700,"f":0.892},{"v":-94550,"f":0.749},{"v":-94395,"f":0.606},{"v":-94240,"f":0.88},{"v":-94085,"f":0.892},{"v":-93935,"f":0.94},{"v":-93780,"f":0.904},{"v":-93625,"f":0.725},{"v":-93475,"f":0.486},{"v":-93320,"f":0.343},{"v":-93165,"f":0.654},{"v":-93010,"f":0.797,"s":1},{"v":-92860,"f":0.845,"s":1},{"v":-92705,"f":0.916,"s":1},{"v":-92550,"f":0.952,"s":1},{"v":-92400,"f":0.999,"s":1},{"v":-92245,"f":1.024,"s":1},{"v":-92090,"f":0.94,"s":1},{"v":-91935,"f":0.928,"s":1},{"v":-91780,"f":0.976,"s":1},{"v":-91630,"f":0.964,"s":1},{"v":-91475,"f":1.024,"s":1},{"v":-91320,"f":1.048,"s":1},{"v":-91165,"f":0.999,"s":1},{"v":-91015,"f":0.869,"s":1},{"v":-90860,"f":0.749,"s":1},{"v":-90705,"f":0.785,"s":1},{"v":-90550,"f":0.654,"s":1},{"v":-90400,"f":0.486},{"v":-90245,"f":0.462},{"v":-90090,"f":0.654,"s":2},{"v":-89940,"f":0.749,"s":2},{"v":-89785,"f":0.713,"s":2},{"v":-89630,"f":0.689,"s":2},{"v":-89475,"f":0.773,"s":2},{"v":-89325,"f":0.725,"s":2},{"v":-89170,"f":0.63,"s":2},{"v":-89015,"f":0.606,"s":2},{"v":-88865,"f":0.462},{"v":-88710,"f":0.367},{"v":-88555,"f":0.582},{"v":-88400,"f":0.785},{"v":-88245,"f":0.654},{"v":-88095,"f":0.606},{"v":-87940,"f":0.558},{"v":-87785,"f":0.558},{"v":-87630,"f":0.654},{"v":-87480,"f":0.606},{"v":-87325,"f":0.546},{"v":-87170,"f":0.415},{"v":-87020,"f":0.295},{"v":-86865,"f":0.283},{"v":-86710,"f":0.331},{"v":-86555,"f":0.379},{"v":-86400,"f":0.367},{"v":-86250,"f":0.462,"s":3},{"v":-86095,"f":0.534,"s":3},{"v":-85940,"f":0.558,"s":3},{"v":-85790,"f":0.486,"s":3},{"v":-85635,"f":0.534,"s":3},{"v":-85480,"f":0.438,"s":3},{"v":-85325,"f":0.462,"s":3},{"v":-85175,"f":0.486,"s":3},{"v":-85020,"f":0.427,"s":3},{"v":-84865,"f":0.415,"s":3},{"v":-84710,"f":0.462,"s":3},{"v":-84560,"f":0.367,"s":3},{"v":-84405,"f":0.438,"s":3},{"v":-84250,"f":0.259},{"v":-84095,"f":0.331,"s":4},{"v":-83945,"f":0.415,"s":4},{"v":-83790,"f":0.45,"s":4},{"v":-83635,"f":0.391,"s":4},{"v":-83480,"f":0.32,"s":4},{"v":-83330,"f":0.415,"s":4},{"v":-83175,"f":0.498,"s":4},{"v":-83020,"f":0.427,"s":4},{"v":-82865,"f":0.343,"s":4},{"v":-82710,"f":0.32,"s":4},{"v":-82560,"f":0.391,"s":4},{"v":-82405,"f":0.415,"s":4},{"v":-82250,"f":0.462,"s":4},{"v":-82100,"f":0.403,"s":4},{"v":-81945,"f":0.438,"s":4},{"v":-81790,"f":0.462,"s":4},{"v":-81635,"f":0.498,"s":4},{"v":-81485,"f":0.51,"s":4},{"v":-81330,"f":0.558,"s":4},{"v":-81175,"f":0.582,"s":4},{"v":-81025,"f":0.594},{"v":-80870,"f":0.618,"s":5},{"v":-80715,"f":0.582,"s":5},{"v":-80560,"f":0.558,"s":5},{"v":-80410,"f":0.654,"s":5},{"v":-80255,"f":0.689,"s":5},{"v":-80100,"f":0.725,"s":5},{"v":-79950,"f":0.713,"s":5},{"v":-79795,"f":0.761,"s":5},{"v":-79640,"f":0.773,"s":5},{"v":-79485,"f":0.821,"s":5},{"v":-79330,"f":0.809,"s":5},{"v":-79180,"f":0.797,"s":5},{"v":-79025,"f":0.845,"s":5},{"v":-78870,"f":0.821,"s":5},{"v":-78720,"f":0.845,"s":5},{"v":-78565,"f":0.809,"s":5},{"v":-78410,"f":0.689,"s":5},{"v":-78255,"f":0.665,"s":5},{"v":-78100,"f":0.725,"s":5},{"v":-77950,"f":0.797,"s":5},{"v":-77795,"f":0.821,"s":5},{"v":-77640,"f":0.749,"s":5},{"v":-77490,"f":0.677,"s":5},{"v":-77335,"f":0.773,"s":5},{"v":-77180,"f":0.833,"s":5},{"v":-77025,"f":0.785,"s":5},{"v":-76875,"f":0.677,"s":5},{"v":-76720,"f":0.845,"s":5},{"v":-76565,"f":0.857,"s":5},{"v":-76410,"f":0.797,"s":5},{"v":-76260,"f":0.773,"s":5},{"v":-76105,"f":0.606},{"v":-75950,"f":0.486},{"v":-75795,"f":0.415},{"v":-75645,"f":0.546},{"v":-75490,"f":0.785,"s":6},{"v":-75335,"f":0.845,"s":6},{"v":-75180,"f":0.857,"s":6},{"v":-75030,"f":0.904,"s":6},{"v":-74875,"f":0.869,"s":6},{"v":-74720,"f":0.845,"s":6},{"v":-74565,"f":0.785,"s":6},{"v":-74410,"f":0.654},{"v":-74260,"f":0.486},{"v":-74105,"f":0.307},{"v":-73950,"f":0.486},{"v":-73800,"f":0.785},{"v":-73645,"f":0.916,"s":7},{"v":-73490,"f":0.988,"s":7},{"v":-73335,"f":1.024,"s":7},{"v":-73185,"f":0.952,"s":7},{"v":-73030,"f":0.916,"s":7},{"v":-72875,"f":0.964,"s":7},{"v":-72725,"f":1.012,"s":7},{"v":-72570,"f":1.036,"s":7},{"v":-72415,"f":0.976,"s":7},{"v":-72260,"f":1.024,"s":7},{"v":-72110,"f":0.892,"s":7},{"v":-71955,"f":0.845,"s":7},{"v":-71800,"f":0.773,"s":7},{"v":-71645,"f":0.857,"s":7},{"v":-71495,"f":0.988},{"v":-71340,"f":1.107},{"v":-71185,"f":1.155},{"v":-71030,"f":1.119},{"v":-70880,"f":1.012},{"v":-70725,"f":0.94},{"v":-70420,"f":1.012},{"v":-70110,"f":0.964},{"v":-69800,"f":1.012},{"v":-69650,"f":0.964},{"v":-69340,"f":0.964},{"v":-69190,"f":1.048},{"v":-69035,"f":1.072},{"v":-68880,"f":1.012},{"v":-68575,"f":0.964},{"v":-68420,"f":1.012},{"v":-68265,"f":0.976},{"v":-68110,"f":1.024},{"v":-67805,"f":1.012},{"v":-67650,"f":0.964},{"v":-67500,"f":1.012},{"v":-67345,"f":1.036},{"v":-67035,"f":0.976},{"v":-66730,"f":0.928},{"v":-66575,"f":0.976},{"v":-66420,"f":1.036},{"v":-66115,"f":0.964},{"v":-65805,"f":0.904},{"v":-65500,"f":0.851},{"v":-65345,"f":0.928},{"v":-65040,"f":1.024},{"v":-64885,"f":1.048},{"v":-64575,"f":1.036},{"v":-64270,"f":1.072},{"v":-64115,"f":1.084},{"v":-63960,"f":1.048},{"v":-63810,"f":1.096},{"v":-63500,"f":1.048},{"v":-63195,"f":1.119},{"v":-63040,"f":1.143},{"v":-62885,"f":1.084},{"v":-62735,"f":1.036},{"v":-62425,"f":1.084},{"v":-62120,"f":1.143},{"v":-61965,"f":1.06},{"v":-61810,"f":1.024},{"v":-61500,"f":1.036},{"v":-61195,"f":1.036},{"v":-61040,"f":0.988},{"v":-60885,"f":1.048},{"v":-60735,"f":1.012},{"v":-60580,"f":0.952},{"v":-60425,"f":0.964},{"v":-60000,"f":0.976}
    ],
    "err5": [
      {"v":-105460,"f":0.068},{"v":-102390,"f":0.074},{"v":-99315,"f":0.068},{"v":-96240,"f":0.062},{"v":-93165,"f":0.059},{"v":-90090,"f":0.056},{"v":-87020,"f":0.047},{"v":-83945,"f":0.05},{"v":-80870,"f":0.05},{"v":-77795,"f":0.056},{"v":-74720,"f":0.05},{"v":-71645,"f":0.05},{"v":-68575,"f":0.054},{"v":-65500,"f":0.056},{"v":-60000,"f":0.05}
    ],
    "fit5": [
      {"c":"comb","v":-105000,"f":1},{"c":"comb","v":-100300,"f":1},{"c":"comb","v":-98300,"f":0.9987},{"c":"comb","v":-96300,"f":0.9932},{"c":"comb","v":-94300,"f":0.9728},{"c":"comb","v":-93300,"f":0.951},{"c":"comb","v":-92300,"f":0.9166},{"c":"comb","v":-91300,"f":0.8669},{"c":"comb","v":-90300,"f":0.8016},{"c":"comb","v":-89300,"f":0.7232},{"c":"comb","v":-88300,"f":0.6387},{"c":"comb","v":-87300,"f":0.5575},{"c":"comb","v":-86300,"f":0.4897},{"c":"comb","v":-85300,"f":0.444},{"c":"comb","v":-84800,"f":0.431},{"c":"comb","v":-84300,"f":0.4252},{"c":"comb","v":-83800,"f":0.4267},{"c":"comb","v":-83300,"f":0.4354},{"c":"comb","v":-82300,"f":0.473},{"c":"comb","v":-81300,"f":0.534},{"c":"comb","v":-80300,"f":0.6112},{"c":"comb","v":-79300,"f":0.695},{"c":"comb","v":-78800,"f":0.7358},{"c":"comb","v":-78300,"f":0.7734},{"c":"comb","v":-77800,"f":0.8045},{"c":"comb","v":-77300,"f":0.8245},{"c":"comb","v":-76800,"f":0.8283},{"c":"comb","v":-76300,"f":0.8165},{"c":"comb","v":-75800,"f":0.7995},{"c":"comb","v":-75300,"f":0.7933},{"c":"comb","v":-74800,"f":0.8101},{"c":"comb","v":-74300,"f":0.8488},{"c":"comb","v":-73800,"f":0.8967},{"c":"comb","v":-73300,"f":0.9388},{"c":"comb","v":-72800,"f":0.9677},{"c":"comb","v":-72300,"f":0.984},{"c":"comb","v":-71800,"f":0.9915},{"c":"comb","v":-71300,"f":0.9954},{"c":"comb","v":-70300,"f":0.9981},{"c":"comb","v":-69300,"f":0.9993},{"c":"comb","v":-68300,"f":1},{"c":"comb","v":-60000,"f":1},
      {"c":"b1","v":-105000,"f":1},{"c":"b1","v":-100300,"f":1},{"c":"b1","v":-99300,"f":0.9996},{"c":"b1","v":-98300,"f":0.999},{"c":"b1","v":-97300,"f":0.9978},{"c":"b1","v":-96300,"f":0.9952},{"c":"b1","v":-95300,"f":0.9901},{"c":"b1","v":-94300,"f":0.9809},{"c":"b1","v":-93300,"f":0.9653},{"c":"b1","v":-92300,"f":0.941},{"c":"b1","v":-91300,"f":0.9057},{"c":"b1","v":-90300,"f":0.8584},{"c":"b1","v":-89300,"f":0.8004},{"c":"b1","v":-88300,"f":0.7356},{"c":"b1","v":-87300,"f":0.6709},{"c":"b1","v":-86300,"f":0.6152},{"c":"b1","v":-85300,"f":0.5775},{"c":"b1","v":-84300,"f":0.564},{"c":"b1","v":-83300,"f":0.5775},{"c":"b1","v":-82300,"f":0.6152},{"c":"b1","v":-81300,"f":0.6709},{"c":"b1","v":-80300,"f":0.7356},{"c":"b1","v":-79300,"f":0.8004},{"c":"b1","v":-78300,"f":0.8584},{"c":"b1","v":-77300,"f":0.9057},{"c":"b1","v":-76300,"f":0.941},{"c":"b1","v":-75300,"f":0.9653},{"c":"b1","v":-74300,"f":0.9809},{"c":"b1","v":-73300,"f":0.9901},{"c":"b1","v":-72300,"f":0.9952},{"c":"b1","v":-71300,"f":0.9978},{"c":"b1","v":-70300,"f":0.999},{"c":"b1","v":-69300,"f":0.9996},{"c":"b1","v":-68300,"f":1},{"c":"b1","v":-60000,"f":1},
      {"c":"r1","v":-105000,"f":1},{"c":"r1","v":-99800,"f":1},{"c":"r1","v":-98800,"f":0.9998},{"c":"r1","v":-97800,"f":0.9995},{"c":"r1","v":-96800,"f":0.9987},{"c":"r1","v":-95800,"f":0.9972},{"c":"r1","v":-94800,"f":0.9943},{"c":"r1","v":-93800,"f":0.9891},{"c":"r1","v":-92800,"f":0.9803},{"c":"r1","v":-91800,"f":0.9664},{"c":"r1","v":-90800,"f":0.9464},{"c":"r1","v":-89800,"f":0.9195},{"c":"r1","v":-88800,"f":0.8865},{"c":"r1","v":-87800,"f":0.8496},{"c":"r1","v":-86800,"f":0.8128},{"c":"r1","v":-85800,"f":0.7811},{"c":"r1","v":-84800,"f":0.7597},{"c":"r1","v":-83800,"f":0.752},{"c":"r1","v":-82800,"f":0.7597},{"c":"r1","v":-81800,"f":0.7811},{"c":"r1","v":-80800,"f":0.8128},{"c":"r1","v":-79800,"f":0.8496},{"c":"r1","v":-78800,"f":0.8865},{"c":"r1","v":-77800,"f":0.9195},{"c":"r1","v":-76800,"f":0.9464},{"c":"r1","v":-75800,"f":0.9664},{"c":"r1","v":-74800,"f":0.9803},{"c":"r1","v":-73800,"f":0.9891},{"c":"r1","v":-72800,"f":0.9943},{"c":"r1","v":-71800,"f":0.9972},{"c":"r1","v":-70800,"f":0.9987},{"c":"r1","v":-69800,"f":0.9995},{"c":"r1","v":-68800,"f":0.9998},{"c":"r1","v":-67800,"f":1},{"c":"r1","v":-60000,"f":1},
      {"c":"b2","v":-105000,"f":1},{"c":"b2","v":-79300,"f":1},{"c":"b2","v":-78800,"f":0.9993},{"c":"b2","v":-78300,"f":0.9974},{"c":"b2","v":-77800,"f":0.9918},{"c":"b2","v":-77300,"f":0.9793},{"c":"b2","v":-76800,"f":0.9574},{"c":"b2","v":-76300,"f":0.9285},{"c":"b2","v":-75800,"f":0.9026},{"c":"b2","v":-75300,"f":0.892},{"c":"b2","v":-74800,"f":0.9026},{"c":"b2","v":-74300,"f":0.9285},{"c":"b2","v":-73800,"f":0.9574},{"c":"b2","v":-73300,"f":0.9793},{"c":"b2","v":-72800,"f":0.9918},{"c":"b2","v":-72300,"f":0.9974},{"c":"b2","v":-71800,"f":0.9993},{"c":"b2","v":-71300,"f":1},{"c":"b2","v":-60000,"f":1},
      {"c":"r2","v":-105000,"f":1},{"c":"r2","v":-78800,"f":1},{"c":"r2","v":-78300,"f":0.9996},{"c":"r2","v":-77800,"f":0.9985},{"c":"r2","v":-77300,"f":0.9955},{"c":"r2","v":-76800,"f":0.9885},{"c":"r2","v":-76300,"f":0.9763},{"c":"r2","v":-75800,"f":0.9603},{"c":"r2","v":-75300,"f":0.9459},{"c":"r2","v":-74800,"f":0.94},{"c":"r2","v":-74300,"f":0.9459},{"c":"r2","v":-73800,"f":0.9603},{"c":"r2","v":-73300,"f":0.9763},{"c":"r2","v":-72800,"f":0.9885},{"c":"r2","v":-72300,"f":0.9955},{"c":"r2","v":-71800,"f":0.9985},{"c":"r2","v":-71300,"f":0.9996},{"c":"r2","v":-70800,"f":1},{"c":"r2","v":-60000,"f":1}
    ],
    "spec6": [
      {"v":-102200,"f":0.904},{"v":-102105,"f":0.498},{"v":-102010,"f":0.438},{"v":-101890,"f":0.665},{"v":-101800,"f":0.331},{"v":-101705,"f":0.164},{"v":-101580,"f":0.486},{"v":-101460,"f":0.701},{"v":-101335,"f":0.642},{"v":-101210,"f":0.725},{"v":-101090,"f":0.677},{"v":-100965,"f":0.845},{"v":-100840,"f":1.06},{"v":-100720,"f":0.964},{"v":-100600,"f":0.654},{"v":-100470,"f":0.092},{"v":-100350,"f":0.486},{"v":-100225,"f":1.143},{"v":-100100,"f":1.179},{"v":-99980,"f":0.845},{"v":-99860,"f":0.606},{"v":-99735,"f":0.486},{"v":-99610,"f":0.427},{"v":-99490,"f":0.188},{"v":-99365,"f":0.606},{"v":-99240,"f":0.701},{"v":-99120,"f":0.821},{"v":-98995,"f":0.869},{"v":-98870,"f":0.964},{"v":-98750,"f":1.239},{"v":-98625,"f":1.084},{"v":-98500,"f":0.725},{"v":-98380,"f":0.665},{"v":-98255,"f":0.606},{"v":-98130,"f":0.785},{"v":-98010,"f":0.391},{"v":-97885,"f":0.654},{"v":-97760,"f":0.821},{"v":-97640,"f":0.904},{"v":-97515,"f":0.654},{"v":-97390,"f":0.964},{"v":-97270,"f":1.06},{"v":-97145,"f":0.964},{"v":-97020,"f":0.845},{"v":-96900,"f":1.084},{"v":-96775,"f":1.287},{"v":-96650,"f":1.084},{"v":-96530,"f":0.785},{"v":-96405,"f":0.606},{"v":-96280,"f":0.486},{"v":-96160,"f":0.665},{"v":-96035,"f":1.143},{"v":-95910,"f":0.904},{"v":-95790,"f":0.725},{"v":-95665,"f":0.845},{"v":-95545,"f":0.869},{"v":-95420,"f":0.701},{"v":-95300,"f":0.665},{"v":-95175,"f":0.725},{"v":-95050,"f":0.654},{"v":-94930,"f":0.845},{"v":-94805,"f":0.988},{"v":-94680,"f":0.606},{"v":-94560,"f":0.486},{"v":-94435,"f":0.725},{"v":-94310,"f":0.558},{"v":-94190,"f":0.176},{"v":-94065,"f":0.51,"s":1},{"v":-93940,"f":0.869,"s":1},{"v":-93820,"f":0.654,"s":1},{"v":-93695,"f":0.63,"s":1},{"v":-93570,"f":0.988,"s":1},{"v":-93450,"f":1.251,"s":1},{"v":-93325,"f":1.299,"s":1},{"v":-93200,"f":0.892,"s":1},{"v":-93080,"f":0.665,"s":1},{"v":-92955,"f":0.606,"s":1},{"v":-92830,"f":0.51,"s":1},{"v":-92710,"f":0.546,"s":1},{"v":-92580,"f":0.331},{"v":-92465,"f":0.606},{"v":-92340,"f":0.654},{"v":-92220,"f":0.725},{"v":-92095,"f":0.964},{"v":-91970,"f":0.821},{"v":-91850,"f":0.725},{"v":-91725,"f":0.701},{"v":-91600,"f":0.486},{"v":-91480,"f":0.606},{"v":-91355,"f":0.797},{"v":-91230,"f":0.654},{"v":-91110,"f":0.606},{"v":-90985,"f":0.725},{"v":-90860,"f":0.749},{"v":-90740,"f":0.904,"s":2},{"v":-90615,"f":0.94,"s":2},{"v":-90490,"f":0.892,"s":2},{"v":-90370,"f":0.869,"s":2},{"v":-90245,"f":1.024,"s":2},{"v":-90125,"f":1.012,"s":2},{"v":-90000,"f":0.88,"s":2},{"v":-89880,"f":1.167,"s":2},{"v":-89755,"f":0.904,"s":2},{"v":-89630,"f":0.809,"s":2},{"v":-89510,"f":0.869,"s":2},{"v":-89385,"f":0.821,"s":2},{"v":-89260,"f":0.928,"s":2},{"v":-89140,"f":0.964,"s":2},{"v":-89015,"f":0.797,"s":2},{"v":-88890,"f":0.606},{"v":-88770,"f":0.51},{"v":-88645,"f":0.427},{"v":-88525,"f":0.546},{"v":-88400,"f":0.606},{"v":-88275,"f":0.367},{"v":-88150,"f":0.427},{"v":-88030,"f":0.546},{"v":-87905,"f":0.654},{"v":-87780,"f":0.797},{"v":-87660,"f":0.928},{"v":-87535,"f":0.654},{"v":-87410,"f":0.606},{"v":-87290,"f":0.582},{"v":-87165,"f":0.546},{"v":-87040,"f":0.701},{"v":-86920,"f":0.654},{"v":-86800,"f":0.63},{"v":-86670,"f":0.701},{"v":-86550,"f":0.654},{"v":-86430,"f":0.63},{"v":-86305,"f":0.606},{"v":-86180,"f":0.725,"s":3},{"v":-86060,"f":0.845,"s":3},{"v":-85935,"f":0.94,"s":3},{"v":-85810,"f":0.869,"s":3},{"v":-85690,"f":0.797,"s":3},{"v":-85565,"f":0.904,"s":3},{"v":-85440,"f":0.63},{"v":-85320,"f":0.546},{"v":-85195,"f":0.462},{"v":-85070,"f":0.558},{"v":-84950,"f":0.606},{"v":-84825,"f":0.665},{"v":-84700,"f":0.869,"s":4},{"v":-84580,"f":0.785,"s":4},{"v":-84455,"f":0.677,"s":4},{"v":-84335,"f":0.558,"s":4},{"v":-84210,"f":0.654,"s":4},{"v":-84090,"f":0.606,"s":4},{"v":-83960,"f":0.725,"s":4},{"v":-83840,"f":0.845,"s":4},{"v":-83720,"f":0.821,"s":4},{"v":-83595,"f":0.749},{"v":-83470,"f":0.462},{"v":-83350,"f":0.367},{"v":-83225,"f":0.462},{"v":-83100,"f":0.51},{"v":-82980,"f":0.582},{"v":-82855,"f":0.63},{"v":-82735,"f":0.606},{"v":-82610,"f":0.654,"s":5},{"v":-82485,"f":0.725,"s":5},{"v":-82365,"f":0.701,"s":5},{"v":-82240,"f":0.63,"s":5},{"v":-82115,"f":0.51},{"v":-81995,"f":0.415},{"v":-81870,"f":0.355},{"v":-81745,"f":0.486},{"v":-81625,"f":0.606},{"v":-81500,"f":0.701},{"v":-81375,"f":0.654},{"v":-81255,"f":0.606},{"v":-81130,"f":0.63},{"v":-81010,"f":0.582},{"v":-80885,"f":0.606},{"v":-80760,"f":0.677},{"v":-80640,"f":0.725},{"v":-80515,"f":0.654},{"v":-80390,"f":0.582},{"v":-80270,"f":0.558},{"v":-80145,"f":0.606},{"v":-80020,"f":0.654,"s":6},{"v":-79900,"f":0.821,"s":6},{"v":-79775,"f":0.964,"s":6},{"v":-79650,"f":0.845,"s":6},{"v":-79530,"f":0.785,"s":6},{"v":-79405,"f":0.701},{"v":-79280,"f":0.654},{"v":-79160,"f":0.749},{"v":-79035,"f":0.797},{"v":-78910,"f":0.701},{"v":-78790,"f":0.654},{"v":-78665,"f":0.606},{"v":-78540,"f":0.665},{"v":-78420,"f":0.725},{"v":-78295,"f":0.773},{"v":-78170,"f":0.725},{"v":-78050,"f":0.677},{"v":-77925,"f":0.582},{"v":-77800,"f":0.486},{"v":-77680,"f":0.606},{"v":-77555,"f":0.701},{"v":-77430,"f":0.785,"s":7},{"v":-77310,"f":0.833,"s":7},{"v":-77185,"f":0.797,"s":7},{"v":-77065,"f":0.749,"s":7},{"v":-76940,"f":0.725,"s":7},{"v":-76820,"f":0.701,"s":7},{"v":-76695,"f":0.654,"s":7},{"v":-76570,"f":0.701,"s":7},{"v":-76450,"f":0.964,"s":7},{"v":-76325,"f":0.988,"s":7},{"v":-76200,"f":0.892,"s":7},{"v":-76080,"f":0.821},{"v":-75955,"f":0.749},{"v":-75830,"f":0.582},{"v":-75710,"f":0.534},{"v":-75585,"f":0.677},{"v":-75460,"f":0.821,"s":8},{"v":-75340,"f":0.869,"s":8},{"v":-75215,"f":0.845,"s":8},{"v":-75090,"f":0.833,"s":8},{"v":-74970,"f":0.845,"s":8},{"v":-74845,"f":0.869,"s":8},{"v":-74725,"f":0.821,"s":8},{"v":-74600,"f":0.797,"s":8},{"v":-74480,"f":0.749,"s":8},{"v":-74355,"f":0.773},{"v":-74230,"f":0.749},{"v":-74110,"f":0.654},{"v":-73985,"f":0.701},{"v":-73860,"f":0.797,"s":9},{"v":-73740,"f":0.869,"s":9},{"v":-73615,"f":0.845,"s":9},{"v":-73490,"f":0.821,"s":9},{"v":-73370,"f":0.892,"s":9},{"v":-73245,"f":0.821,"s":9},{"v":-73125,"f":0.749,"s":9},{"v":-73000,"f":0.606},{"v":-72875,"f":0.654},{"v":-72755,"f":0.725},{"v":-72630,"f":0.677},{"v":-72505,"f":0.606},{"v":-72385,"f":0.701,"s":10},{"v":-72260,"f":0.821,"s":10},{"v":-72135,"f":0.892,"s":10},{"v":-72015,"f":0.821,"s":10},{"v":-71890,"f":0.534},{"v":-71770,"f":0.665},{"v":-71645,"f":0.749,"s":11},{"v":-71520,"f":0.821,"s":11},{"v":-71400,"f":0.845,"s":11},{"v":-71275,"f":0.869,"s":11},{"v":-71150,"f":0.892,"s":11},{"v":-71030,"f":0.94,"s":11},{"v":-70905,"f":0.916,"s":11},{"v":-70780,"f":0.892,"s":11},{"v":-70660,"f":0.94,"s":11},{"v":-70535,"f":0.869,"s":11},{"v":-70410,"f":0.916,"s":11},{"v":-70290,"f":0.845,"s":11},{"v":-70165,"f":0.821,"s":11},{"v":-70040,"f":0.785},{"v":-69920,"f":0.701},{"v":-69795,"f":0.654},{"v":-69670,"f":0.725},{"v":-69550,"f":0.773},{"v":-69425,"f":0.821},{"v":-69300,"f":0.821},{"v":-69180,"f":0.869},{"v":-69055,"f":0.94},{"v":-68930,"f":0.964},{"v":-68810,"f":0.976},{"v":-68685,"f":0.797},{"v":-68560,"f":0.701},{"v":-68440,"f":0.63},{"v":-68317,"f":0.761},{"v":-68195,"f":0.821},{"v":-68070,"f":0.558},{"v":-67945,"f":0.701},{"v":-67825,"f":0.821},{"v":-67700,"f":0.845},{"v":-67575,"f":0.785},{"v":-67455,"f":0.725},{"v":-67330,"f":0.677},{"v":-67210,"f":0.63},{"v":-67085,"f":0.654},{"v":-66960,"f":0.749},{"v":-66840,"f":0.797},{"v":-66715,"f":0.845},{"v":-66590,"f":0.761},{"v":-66470,"f":0.677},{"v":-66345,"f":0.63},{"v":-66220,"f":0.606},{"v":-66100,"f":0.654},{"v":-65975,"f":0.701},{"v":-65855,"f":0.785},{"v":-65730,"f":0.869},{"v":-65605,"f":0.785},{"v":-65485,"f":0.725},{"v":-65360,"f":0.749},{"v":-65240,"f":0.845},{"v":-65115,"f":0.892},{"v":-64990,"f":0.809},{"v":-64870,"f":0.725},{"v":-64745,"f":0.677},{"v":-64620,"f":0.606},{"v":-64500,"f":0.546},{"v":-64375,"f":0.486},{"v":-64250,"f":0.606},{"v":-64130,"f":0.701},{"v":-64005,"f":0.63},{"v":-63880,"f":0.546},{"v":-63760,"f":0.486},{"v":-63635,"f":0.3},{"v":-63510,"f":0.546},{"v":-63390,"f":0.654},{"v":-63265,"f":0.749},{"v":-63140,"f":0.821},{"v":-63020,"f":0.928},{"v":-62895,"f":0.964},{"v":-62770,"f":0.94},{"v":-62650,"f":0.988},{"v":-62525,"f":1.012},{"v":-62400,"f":1.0},{"v":-62280,"f":0.928},{"v":-62160,"f":0.94},{"v":-62030,"f":0.964},{"v":-61910,"f":0.928},{"v":-61790,"f":0.892},{"v":-61660,"f":0.976},{"v":-61540,"f":1.024},{"v":-61420,"f":1.036},{"v":-61290,"f":0.964},{"v":-61170,"f":0.785},{"v":-61050,"f":0.63},{"v":-60925,"f":0.701},{"v":-60800,"f":0.654},{"v":-60680,"f":0.594},{"v":-60555,"f":0.546},{"v":-60430,"f":0.486},{"v":-60310,"f":0.546},{"v":-60185,"f":0.654},{"v":-60060,"f":0.725},{"v":-59940,"f":0.749}
    ],
    "err6": [
      {"v":-102200,"f":0.2},{"v":-101890,"f":0.193},{"v":-101580,"f":0.176},{"v":-101270,"f":0.188},{"v":-100965,"f":0.193},{"v":-100660,"f":0.206},{"v":-100350,"f":0.188},{"v":-100040,"f":0.2},{"v":-99735,"f":0.2},{"v":-99425,"f":0.188},{"v":-99120,"f":0.212},{"v":-98810,"f":0.229},{"v":-98500,"f":0.212},{"v":-98190,"f":0.193},{"v":-97885,"f":0.182},{"v":-97270,"f":0.188},{"v":-96650,"f":0.17},{"v":-96035,"f":0.158},{"v":-95420,"f":0.152},{"v":-94805,"f":0.158},{"v":-94190,"f":0.146},{"v":-93570,"f":0.158},{"v":-92955,"f":0.14},{"v":-92340,"f":0.134},{"v":-91725,"f":0.146},{"v":-91110,"f":0.14},{"v":-90490,"f":0.146},{"v":-90185,"f":0.17},{"v":-89880,"f":0.14},{"v":-89260,"f":0.128},{"v":-88645,"f":0.122},{"v":-88030,"f":0.116},{"v":-87410,"f":0.104},{"v":-86800,"f":0.098},{"v":-86180,"f":0.104},{"v":-85565,"f":0.11},{"v":-84950,"f":0.098},{"v":-84335,"f":0.092},{"v":-83720,"f":0.104},{"v":-83100,"f":0.086},{"v":-82485,"f":0.08},{"v":-81870,"f":0.074},{"v":-81255,"f":0.08},{"v":-80640,"f":0.074},{"v":-80020,"f":0.08},{"v":-79405,"f":0.074},{"v":-78790,"f":0.08},{"v":-78170,"f":0.074},{"v":-77555,"f":0.071},{"v":-76940,"f":0.074},{"v":-76325,"f":0.08},{"v":-75710,"f":0.071},{"v":-75090,"f":0.068},{"v":-74480,"f":0.071},{"v":-73860,"f":0.068},{"v":-73245,"f":0.071},{"v":-71400,"f":0.066},{"v":-68320,"f":0.062},{"v":-65240,"f":0.062},{"v":-62160,"f":0.059},{"v":-59940,"f":0.056}
    ],
    "fit6": [
      {"c":"comb","v":-102200,"f":1},{"c":"comb","v":-98750,"f":0.9998},{"c":"comb","v":-96750,"f":0.9988},{"c":"comb","v":-94750,"f":0.9939},{"c":"comb","v":-93750,"f":0.9881},{"c":"comb","v":-92750,"f":0.9782},{"c":"comb","v":-91750,"f":0.9622},{"c":"comb","v":-90750,"f":0.9385},{"c":"comb","v":-89750,"f":0.9063},{"c":"comb","v":-88750,"f":0.8658},{"c":"comb","v":-87750,"f":0.8192},{"c":"comb","v":-86750,"f":0.7712},{"c":"comb","v":-85750,"f":0.7274},{"c":"comb","v":-84750,"f":0.6936},{"c":"comb","v":-83750,"f":0.6744},{"c":"comb","v":-82750,"f":0.6724},{"c":"comb","v":-81750,"f":0.6873},{"c":"comb","v":-80750,"f":0.7172},{"c":"comb","v":-79750,"f":0.7577},{"c":"comb","v":-78750,"f":0.8039},{"c":"comb","v":-78250,"f":0.8269},{"c":"comb","v":-77750,"f":0.8479},{"c":"comb","v":-77250,"f":0.8623},{"c":"comb","v":-76750,"f":0.8629},{"c":"comb","v":-76250,"f":0.8457},{"c":"comb","v":-75750,"f":0.8211},{"c":"comb","v":-75250,"f":0.8123},{"c":"comb","v":-74750,"f":0.831},{"c":"comb","v":-74250,"f":0.8614},{"c":"comb","v":-73750,"f":0.8838},{"c":"comb","v":-73250,"f":0.9},{"c":"comb","v":-72750,"f":0.9228},{"c":"comb","v":-72250,"f":0.9505},{"c":"comb","v":-71750,"f":0.9742},{"c":"comb","v":-71250,"f":0.9878},{"c":"comb","v":-70750,"f":0.9944},{"c":"comb","v":-70250,"f":0.9969},{"c":"comb","v":-69750,"f":0.9981},{"c":"comb","v":-68750,"f":0.9991},{"c":"comb","v":-67750,"f":0.9997},{"c":"comb","v":-66750,"f":1},{"c":"comb","v":-60000,"f":1},
      {"c":"b1","v":-102200,"f":1},{"c":"b1","v":-98750,"f":0.9998},{"c":"b1","v":-97750,"f":0.9995},{"c":"b1","v":-96750,"f":0.9988},{"c":"b1","v":-95750,"f":0.9973},{"c":"b1","v":-94750,"f":0.9946},{"c":"b1","v":-93750,"f":0.9895},{"c":"b1","v":-92750,"f":0.981},{"c":"b1","v":-91750,"f":0.9677},{"c":"b1","v":-90750,"f":0.9483},{"c":"b1","v":-89750,"f":0.9224},{"c":"b1","v":-88750,"f":0.8906},{"c":"b1","v":-87750,"f":0.855},{"c":"b1","v":-86750,"f":0.8196},{"c":"b1","v":-85750,"f":0.7891},{"c":"b1","v":-84750,"f":0.7684},{"c":"b1","v":-83750,"f":0.761},{"c":"b1","v":-82750,"f":0.7684},{"c":"b1","v":-81750,"f":0.7891},{"c":"b1","v":-80750,"f":0.8196},{"c":"b1","v":-79750,"f":0.855},{"c":"b1","v":-78750,"f":0.8906},{"c":"b1","v":-77750,"f":0.9224},{"c":"b1","v":-76750,"f":0.9483},{"c":"b1","v":-75750,"f":0.9677},{"c":"b1","v":-74750,"f":0.981},{"c":"b1","v":-73750,"f":0.9895},{"c":"b1","v":-72750,"f":0.9946},{"c":"b1","v":-71750,"f":0.9973},{"c":"b1","v":-70750,"f":0.9988},{"c":"b1","v":-69750,"f":0.9995},{"c":"b1","v":-68750,"f":0.9998},{"c":"b1","v":-67750,"f":1},{"c":"b1","v":-60000,"f":1},
      {"c":"r1","v":-102200,"f":1},{"c":"r1","v":-96750,"f":1},{"c":"r1","v":-95750,"f":0.9997},{"c":"r1","v":-94750,"f":0.9993},{"c":"r1","v":-93750,"f":0.9986},{"c":"r1","v":-92750,"f":0.9971},{"c":"r1","v":-91750,"f":0.9943},{"c":"r1","v":-90750,"f":0.9897},{"c":"r1","v":-89750,"f":0.9825},{"c":"r1","v":-88750,"f":0.9721},{"c":"r1","v":-87750,"f":0.9581},{"c":"r1","v":-86750,"f":0.9409},{"c":"r1","v":-85750,"f":0.9218},{"c":"r1","v":-84750,"f":0.9026},{"c":"r1","v":-83750,"f":0.8862},{"c":"r1","v":-82750,"f":0.875},{"c":"r1","v":-81750,"f":0.871},{"c":"r1","v":-80750,"f":0.875},{"c":"r1","v":-79750,"f":0.8862},{"c":"r1","v":-78750,"f":0.9026},{"c":"r1","v":-77750,"f":0.9218},{"c":"r1","v":-76750,"f":0.9409},{"c":"r1","v":-75750,"f":0.9581},{"c":"r1","v":-74750,"f":0.9721},{"c":"r1","v":-73750,"f":0.9825},{"c":"r1","v":-72750,"f":0.9897},{"c":"r1","v":-71750,"f":0.9943},{"c":"r1","v":-70750,"f":0.9971},{"c":"r1","v":-69750,"f":0.9986},{"c":"r1","v":-68750,"f":0.9993},{"c":"r1","v":-67750,"f":0.9997},{"c":"r1","v":-66750,"f":1},{"c":"r1","v":-60000,"f":1},
      {"c":"b2","v":-102200,"f":1},{"c":"b2","v":-78750,"f":1},{"c":"b2","v":-78250,"f":0.9995},{"c":"b2","v":-77750,"f":0.9972},{"c":"b2","v":-77250,"f":0.9888},{"c":"b2","v":-76750,"f":0.9671},{"c":"b2","v":-76250,"f":0.9288},{"c":"b2","v":-75750,"f":0.8869},{"c":"b2","v":-75250,"f":0.868},{"c":"b2","v":-74750,"f":0.8869},{"c":"b2","v":-74250,"f":0.9288},{"c":"b2","v":-73750,"f":0.9671},{"c":"b2","v":-73250,"f":0.9888},{"c":"b2","v":-72750,"f":0.9972},{"c":"b2","v":-72250,"f":0.9995},{"c":"b2","v":-71750,"f":1},{"c":"b2","v":-60000,"f":1},
      {"c":"r2","v":-102200,"f":1},{"c":"r2","v":-76750,"f":1},{"c":"r2","v":-76250,"f":0.9997},{"c":"r2","v":-75750,"f":0.9985},{"c":"r2","v":-75250,"f":0.9941},{"c":"r2","v":-74750,"f":0.9825},{"c":"r2","v":-74250,"f":0.9622},{"c":"r2","v":-73750,"f":0.94},{"c":"r2","v":-73250,"f":0.93},{"c":"r2","v":-72750,"f":0.94},{"c":"r2","v":-72250,"f":0.9622},{"c":"r2","v":-71750,"f":0.9825},{"c":"r2","v":-71250,"f":0.9941},{"c":"r2","v":-70750,"f":0.9985},{"c":"r2","v":-70250,"f":0.9997},{"c":"r2","v":-69750,"f":1},{"c":"r2","v":-60000,"f":1}
    ]
  },
  "resolve": {"scale": {"color": "independent", "strokeDash": "independent"}},
  "bounds": "flush",
  "columns": 2,
  "spacing": {"row": 110, "column": 140},
  "concat": [
    {
      "title": "J2318 MJD:57328 CIV EHVO",
      "width": 488, "height": 362,
      "encoding": {
        "x": {"field": "v", "type": "quantitative", "scale": {"domain": [-105000, -60000], "nice": false, "zero": false}, "axis": {"values": [-100000, -90000, -80000, -70000, -60000], "format": "d", "title": "Velocity km/s"}},
        "y": {"field": "f", "type": "quantitative", "scale": {"domain": [0, 1.3], "nice": false, "zero": false}, "axis": {"values": [0, 0.2, 0.4, 0.6, 0.8, 1.0, 1.2], "format": ".1f", "title": "Normalized Flux"}}
      },
      "layer": [
        {"data": {"name": "spec1"}, "mark": {"type": "line", "clip": true},
         "encoding": {"color": {"datum": "Masked Regions", "type": "nominal", "scale": {"domain": ["Masked Regions", "Error", "Combined Fit", "CIV Doublet 1", "CIV Doublet 2"], "range": ["gray", "lightgray", "purple", "blue", "blue"]}, "legend": {"title": null}},
                      "strokeDash": {"datum": "Masked Regions", "type": "nominal", "scale": {"domain": ["Masked Regions", "Error", "Combined Fit", "CIV Doublet 1", "CIV Doublet 2"], "range": [[1, 0], [1, 0], [1, 0], [7.4, 3.2], [2, 3.3]]}, "legend": {"title": null}}}},
        {"data": {"name": "spec1"}, "transform": [{"filter": "isValid(datum.s)"}], "mark": {"type": "line", "color": "black", "clip": true}, "encoding": {"detail": {"field": "s", "type": "nominal"}}},
        {"data": {"name": "err1"}, "mark": {"type": "line", "clip": true},
         "encoding": {"color": {"datum": "Error", "type": "nominal"}, "strokeDash": {"datum": "Error", "type": "nominal"}}},
        {"data": {"name": "cont"}, "mark": {"type": "line", "color": "#1f77b4"}, "encoding": {}},
        {"data": {"name": "fit1"}, "transform": [{"filter": "datum.c === 'comb'"}], "mark": {"type": "line", "interpolate": "monotone"},
         "encoding": {"color": {"datum": "Combined Fit", "type": "nominal"}, "strokeDash": {"datum": "Combined Fit", "type": "nominal"}}},
        {"data": {"name": "fit1"}, "transform": [{"filter": "datum.c === 'r1'"}], "mark": {"type": "line", "interpolate": "monotone", "color": "red", "strokeDash": [7.4, 3.2]}, "encoding": {}},
        {"data": {"name": "fit1"}, "transform": [{"filter": "datum.c === 'r2'"}], "mark": {"type": "line", "interpolate": "monotone", "color": "red", "strokeDash": [2, 3.3]}, "encoding": {}},
        {"data": {"name": "fit1"}, "transform": [{"filter": "datum.c === 'b1'"}], "mark": {"type": "line", "interpolate": "monotone"},
         "encoding": {"color": {"datum": "CIV Doublet 1", "type": "nominal"}, "strokeDash": {"datum": "CIV Doublet 1", "type": "nominal"}}},
        {"data": {"name": "fit1"}, "transform": [{"filter": "datum.c === 'b2'"}], "mark": {"type": "line", "interpolate": "monotone"},
         "encoding": {"color": {"datum": "CIV Doublet 2", "type": "nominal"}, "strokeDash": {"datum": "CIV Doublet 2", "type": "nominal"}}}
      ]
    },
    {
      "title": "J2318 MJD:57328 SiIV EHVO",
      "width": 488, "height": 362,
      "encoding": {
        "x": {"field": "v", "type": "quantitative", "scale": {"domain": [-105000, -60000], "nice": false, "zero": false}, "axis": {"values": [-100000, -90000, -80000, -70000, -60000], "format": "d", "title": "Velocity km/s"}},
        "y": {"field": "f", "type": "quantitative", "scale": {"domain": [0, 1.3], "nice": false, "zero": false}, "axis": {"values": [0, 0.2, 0.4, 0.6, 0.8, 1.0, 1.2], "format": ".1f", "title": "Normalized Flux"}}
      },
      "layer": [
        {"data": {"name": "spec2"}, "mark": {"type": "line", "color": "black", "clip": true}, "encoding": {}},
        {"data": {"name": "err2"}, "mark": {"type": "line", "clip": true},
         "encoding": {"color": {"datum": "Error", "type": "nominal", "scale": {"domain": ["Error"], "range": ["lightgray"]}, "legend": {"title": null}},
                      "strokeDash": {"datum": "Error", "type": "nominal", "scale": {"domain": ["Error"], "range": [[1, 0]]}, "legend": {"title": null}}}},
        {"data": {"name": "cont"}, "mark": {"type": "line", "color": "#1f77b4"}, "encoding": {}}
      ]
    },
    {
      "title": "J2318 MJD:59188 CIV EHVO",
      "width": 488, "height": 362,
      "encoding": {
        "x": {"field": "v", "type": "quantitative", "scale": {"domain": [-105000, -60000], "nice": false, "zero": false}, "axis": {"values": [-100000, -90000, -80000, -70000, -60000], "format": "d", "title": "Velocity km/s"}},
        "y": {"field": "f", "type": "quantitative", "scale": {"domain": [0, 1.3], "nice": false, "zero": false}, "axis": {"values": [0, 0.2, 0.4, 0.6, 0.8, 1.0, 1.2], "format": ".1f", "title": "Normalized Flux"}}
      },
      "layer": [
        {"data": {"name": "spec3"}, "mark": {"type": "line", "clip": true},
         "encoding": {"color": {"datum": "Masked Regions", "type": "nominal", "scale": {"domain": ["Masked Regions", "Combined Fit", "CIV Doublet 1", "CIV Doublet 2", "CIV Doublet 3", "Error"], "range": ["gray", "purple", "blue", "blue", "blue", "lightgray"]}, "legend": {"title": null}},
                      "strokeDash": {"datum": "Masked Regions", "type": "nominal", "scale": {"domain": ["Masked Regions", "Combined Fit", "CIV Doublet 1", "CIV Doublet 2", "CIV Doublet 3", "Error"], "range": [[1, 0], [1, 0], [7.4, 3.2], [2, 3.3], [12.8, 3.2, 2, 3.2], [1, 0]]}, "legend": {"title": null}}}},
        {"data": {"name": "spec3"}, "transform": [{"filter": "isValid(datum.s)"}], "mark": {"type": "line", "color": "black", "clip": true}, "encoding": {"detail": {"field": "s", "type": "nominal"}}},
        {"data": {"name": "err3"}, "mark": {"type": "line", "clip": true},
         "encoding": {"color": {"datum": "Error", "type": "nominal"}, "strokeDash": {"datum": "Error", "type": "nominal"}}},
        {"data": {"name": "cont"}, "mark": {"type": "line", "color": "#1f77b4"}, "encoding": {}},
        {"data": {"name": "fit3"}, "transform": [{"filter": "datum.c === 'comb'"}], "mark": {"type": "line", "interpolate": "monotone"},
         "encoding": {"color": {"datum": "Combined Fit", "type": "nominal"}, "strokeDash": {"datum": "Combined Fit", "type": "nominal"}}},
        {"data": {"name": "fit3"}, "transform": [{"filter": "datum.c === 'r1'"}], "mark": {"type": "line", "interpolate": "monotone", "color": "red", "strokeDash": [7.4, 3.2]}, "encoding": {}},
        {"data": {"name": "fit3"}, "transform": [{"filter": "datum.c === 'r2'"}], "mark": {"type": "line", "interpolate": "monotone", "color": "red", "strokeDash": [2, 3.3]}, "encoding": {}},
        {"data": {"name": "fit3"}, "transform": [{"filter": "datum.c === 'r3'"}], "mark": {"type": "line", "interpolate": "monotone", "color": "red", "strokeDash": [12.8, 3.2, 2, 3.2]}, "encoding": {}},
        {"data": {"name": "fit3"}, "transform": [{"filter": "datum.c === 'b1'"}], "mark": {"type": "line", "interpolate": "monotone"},
         "encoding": {"color": {"datum": "CIV Doublet 1", "type": "nominal"}, "strokeDash": {"datum": "CIV Doublet 1", "type": "nominal"}}},
        {"data": {"name": "fit3"}, "transform": [{"filter": "datum.c === 'b2'"}], "mark": {"type": "line", "interpolate": "monotone"},
         "encoding": {"color": {"datum": "CIV Doublet 2", "type": "nominal"}, "strokeDash": {"datum": "CIV Doublet 2", "type": "nominal"}}},
        {"data": {"name": "fit3"}, "transform": [{"filter": "datum.c === 'b3'"}], "mark": {"type": "line", "interpolate": "monotone"},
         "encoding": {"color": {"datum": "CIV Doublet 3", "type": "nominal"}, "strokeDash": {"datum": "CIV Doublet 3", "type": "nominal"}}}
      ]
    },
    {
      "title": "J2318 MJD:59188 SiIV EHVO",
      "width": 488, "height": 362,
      "encoding": {
        "x": {"field": "v", "type": "quantitative", "scale": {"domain": [-105000, -60000], "nice": false, "zero": false}, "axis": {"values": [-100000, -90000, -80000, -70000, -60000], "format": "d", "title": "Velocity km/s"}},
        "y": {"field": "f", "type": "quantitative", "scale": {"domain": [0, 1.3], "nice": false, "zero": false}, "axis": {"values": [0, 0.2, 0.4, 0.6, 0.8, 1.0, 1.2], "format": ".1f", "title": "Normalized Flux"}}
      },
      "layer": [
        {"data": {"name": "spec4"}, "mark": {"type": "line", "clip": true},
         "encoding": {"color": {"datum": "Masked Regions", "type": "nominal", "scale": {"domain": ["Masked Regions", "Combined Fit", "SiIV Doublet 1", "SiIV Doublet 2", "Error"], "range": ["gray", "purple", "blue", "blue", "lightgray"]}, "legend": {"title": null}},
                      "strokeDash": {"datum": "Masked Regions", "type": "nominal", "scale": {"domain": ["Masked Regions", "Combined Fit", "SiIV Doublet 1", "SiIV Doublet 2", "Error"], "range": [[1, 0], [1, 0], [7.4, 3.2], [2, 3.3], [1, 0]]}, "legend": {"title": null}}}},
        {"data": {"name": "spec4"}, "transform": [{"filter": "isValid(datum.s)"}], "mark": {"type": "line", "color": "black", "clip": true}, "encoding": {"detail": {"field": "s", "type": "nominal"}}},
        {"data": {"name": "err4"}, "mark": {"type": "line", "clip": true},
         "encoding": {"color": {"datum": "Error", "type": "nominal"}, "strokeDash": {"datum": "Error", "type": "nominal"}}},
        {"data": {"name": "cont"}, "mark": {"type": "line", "color": "#1f77b4"}, "encoding": {}},
        {"data": {"name": "fit4"}, "transform": [{"filter": "datum.c === 'comb'"}], "mark": {"type": "line", "interpolate": "monotone"},
         "encoding": {"color": {"datum": "Combined Fit", "type": "nominal"}, "strokeDash": {"datum": "Combined Fit", "type": "nominal"}}},
        {"data": {"name": "fit4"}, "transform": [{"filter": "datum.c === 'r1'"}], "mark": {"type": "line", "interpolate": "monotone", "color": "red", "strokeDash": [7.4, 3.2]}, "encoding": {}},
        {"data": {"name": "fit4"}, "transform": [{"filter": "datum.c === 'r2'"}], "mark": {"type": "line", "interpolate": "monotone", "color": "red", "strokeDash": [2, 3.3]}, "encoding": {}},
        {"data": {"name": "fit4"}, "transform": [{"filter": "datum.c === 'b1'"}], "mark": {"type": "line", "interpolate": "monotone"},
         "encoding": {"color": {"datum": "SiIV Doublet 1", "type": "nominal"}, "strokeDash": {"datum": "SiIV Doublet 1", "type": "nominal"}}},
        {"data": {"name": "fit4"}, "transform": [{"filter": "datum.c === 'b2'"}], "mark": {"type": "line", "interpolate": "monotone"},
         "encoding": {"color": {"datum": "SiIV Doublet 2", "type": "nominal"}, "strokeDash": {"datum": "SiIV Doublet 2", "type": "nominal"}}}
      ]
    },
    {
      "title": "J2318 MJD:60251 CIV EHVO",
      "width": 488, "height": 362,
      "encoding": {
        "x": {"field": "v", "type": "quantitative", "scale": {"domain": [-105000, -60000], "nice": false, "zero": false}, "axis": {"values": [-100000, -90000, -80000, -70000, -60000], "format": "d", "title": "Velocity km/s"}},
        "y": {"field": "f", "type": "quantitative", "scale": {"domain": [0, 1.3], "nice": false, "zero": false}, "axis": {"values": [0, 0.2, 0.4, 0.6, 0.8, 1.0, 1.2], "format": ".1f", "title": "Normalized Flux"}}
      },
      "layer": [
        {"data": {"name": "spec5"}, "mark": {"type": "line", "clip": true},
         "encoding": {"color": {"datum": "Masked Regions", "type": "nominal", "scale": {"domain": ["Masked Regions", "Combined Fit", "CIV Doublet 1", "CIV Doublet 2", "Error"], "range": ["gray", "purple", "blue", "blue", "lightgray"]}, "legend": {"title": null}},
                      "strokeDash": {"datum": "Masked Regions", "type": "nominal", "scale": {"domain": ["Masked Regions", "Combined Fit", "CIV Doublet 1", "CIV Doublet 2", "Error"], "range": [[1, 0], [1, 0], [7.4, 3.2], [2, 3.3], [1, 0]]}, "legend": {"title": null}}}},
        {"data": {"name": "spec5"}, "transform": [{"filter": "isValid(datum.s)"}], "mark": {"type": "line", "color": "black", "clip": true}, "encoding": {"detail": {"field": "s", "type": "nominal"}}},
        {"data": {"name": "err5"}, "mark": {"type": "line", "clip": true},
         "encoding": {"color": {"datum": "Error", "type": "nominal"}, "strokeDash": {"datum": "Error", "type": "nominal"}}},
        {"data": {"name": "cont"}, "mark": {"type": "line", "color": "#1f77b4"}, "encoding": {}},
        {"data": {"name": "fit5"}, "transform": [{"filter": "datum.c === 'comb'"}], "mark": {"type": "line", "interpolate": "monotone"},
         "encoding": {"color": {"datum": "Combined Fit", "type": "nominal"}, "strokeDash": {"datum": "Combined Fit", "type": "nominal"}}},
        {"data": {"name": "fit5"}, "transform": [{"filter": "datum.c === 'r1'"}], "mark": {"type": "line", "interpolate": "monotone", "color": "red", "strokeDash": [7.4, 3.2]}, "encoding": {}},
        {"data": {"name": "fit5"}, "transform": [{"filter": "datum.c === 'r2'"}], "mark": {"type": "line", "interpolate": "monotone", "color": "red", "strokeDash": [2, 3.3]}, "encoding": {}},
        {"data": {"name": "fit5"}, "transform": [{"filter": "datum.c === 'b1'"}], "mark": {"type": "line", "interpolate": "monotone"},
         "encoding": {"color": {"datum": "CIV Doublet 1", "type": "nominal"}, "strokeDash": {"datum": "CIV Doublet 1", "type": "nominal"}}},
        {"data": {"name": "fit5"}, "transform": [{"filter": "datum.c === 'b2'"}], "mark": {"type": "line", "interpolate": "monotone"},
         "encoding": {"color": {"datum": "CIV Doublet 2", "type": "nominal"}, "strokeDash": {"datum": "CIV Doublet 2", "type": "nominal"}}}
      ]
    },
    {
      "title": "J2318 MJD:60251 SiIV EHVO",
      "width": 488, "height": 362,
      "encoding": {
        "x": {"field": "v", "type": "quantitative", "scale": {"domain": [-105000, -60000], "nice": false, "zero": false}, "axis": {"values": [-100000, -90000, -80000, -70000, -60000], "format": "d", "title": "Velocity km/s"}},
        "y": {"field": "f", "type": "quantitative", "scale": {"domain": [0, 1.3], "nice": false, "zero": false}, "axis": {"values": [0, 0.2, 0.4, 0.6, 0.8, 1.0, 1.2], "format": ".1f", "title": "Normalized Flux"}}
      },
      "layer": [
        {"data": {"name": "spec6"}, "mark": {"type": "line", "clip": true},
         "encoding": {"color": {"datum": "Masked Regions", "type": "nominal", "scale": {"domain": ["Masked Regions", "Combined Fit", "SiIV Doublet 1", "SiIV Doublet 2", "Error"], "range": ["gray", "purple", "blue", "blue", "lightgray"]}, "legend": {"title": null}},
                      "strokeDash": {"datum": "Masked Regions", "type": "nominal", "scale": {"domain": ["Masked Regions", "Combined Fit", "SiIV Doublet 1", "SiIV Doublet 2", "Error"], "range": [[1, 0], [1, 0], [7.4, 3.2], [2, 3.3], [1, 0]]}, "legend": {"title": null}}}},
        {"data": {"name": "spec6"}, "transform": [{"filter": "isValid(datum.s)"}], "mark": {"type": "line", "color": "black", "clip": true}, "encoding": {"detail": {"field": "s", "type": "nominal"}}},
        {"data": {"name": "err6"}, "mark": {"type": "line", "clip": true},
         "encoding": {"color": {"datum": "Error", "type": "nominal"}, "strokeDash": {"datum": "Error", "type": "nominal"}}},
        {"data": {"name": "cont"}, "mark": {"type": "line", "color": "#1f77b4"}, "encoding": {}},
        {"data": {"name": "fit6"}, "transform": [{"filter": "datum.c === 'comb'"}], "mark": {"type": "line", "interpolate": "monotone"},
         "encoding": {"color": {"datum": "Combined Fit", "type": "nominal"}, "strokeDash": {"datum": "Combined Fit", "type": "nominal"}}},
        {"data": {"name": "fit6"}, "transform": [{"filter": "datum.c === 'r1'"}], "mark": {"type": "line", "interpolate": "monotone", "color": "red", "strokeDash": [7.4, 3.2]}, "encoding": {}},
        {"data": {"name": "fit6"}, "transform": [{"filter": "datum.c === 'r2'"}], "mark": {"type": "line", "interpolate": "monotone", "color": "red", "strokeDash": [2, 3.3]}, "encoding": {}},
        {"data": {"name": "fit6"}, "transform": [{"filter": "datum.c === 'b1'"}], "mark": {"type": "line", "interpolate": "monotone"},
         "encoding": {"color": {"datum": "SiIV Doublet 1", "type": "nominal"}, "strokeDash": {"datum": "SiIV Doublet 1", "type": "nominal"}}},
        {"data": {"name": "fit6"}, "transform": [{"filter": "datum.c === 'b2'"}], "mark": {"type": "line", "interpolate": "monotone"},
         "encoding": {"color": {"datum": "SiIV Doublet 2", "type": "nominal"}, "strokeDash": {"datum": "SiIV Doublet 2", "type": "nominal"}}}
      ]
    }
  ]
}
